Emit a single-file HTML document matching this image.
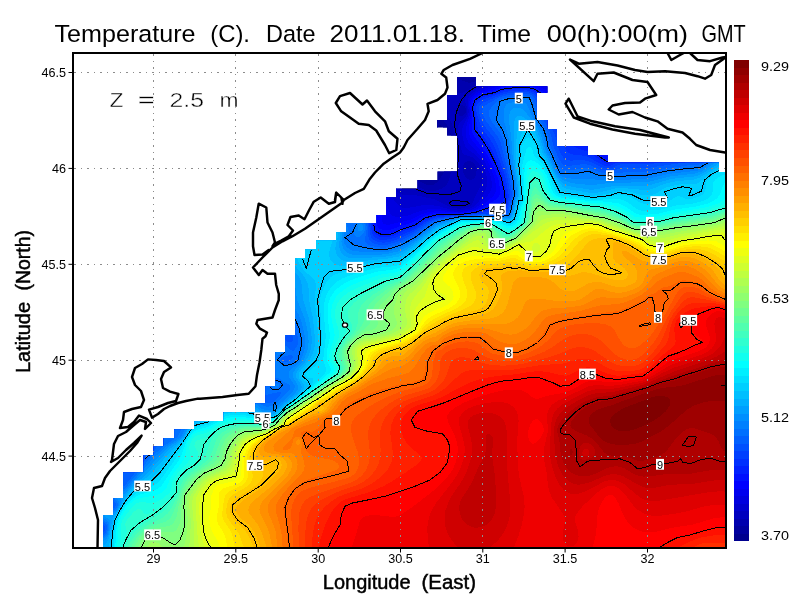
<!DOCTYPE html><html><head><meta charset="utf-8"><title>Temperature (C)</title>
<style>html,body{margin:0;padding:0;background:#fff}svg{display:block}text{font-family:"Liberation Sans",sans-serif;fill:#000}</style></head><body>
<svg width="800" height="600" viewBox="0 0 800 600">
<rect width="800" height="600" fill="#fff"/>
<defs><clipPath id="m"><path d="M103 549l0-34 10.2 0 0-17 10 0 0-25.5 20.5 0 .1-17.5 9.9 0 .1-8.8 9.9 .1 .1-8.3 10.7 0 0-8.5 19.8 0-.1-8.2 29.6-.1-.1-8.7 31.8 0 0-9 10 0 0-17.2 10-.1 0-34.2 9.5 0 0-17 10 0 0-77 10 0 0-8.5 11 0 0-9 20 0 0-8.5 10 0 0-9 30 0 0-8 10 0 0-17.5 10 0 0-8.8 21.5 .1 0-8.8 20 0 0-8.5 19.8 0 0-35.9-10.2 0 0-8.1-10 0 0-7.5 10 0 0-25 10 0 0-17.9 18.9 0 0 9.1 71.2 0 0 6.5-10.5 0 0 27.3 10.5 0 0 9 9.8 0 0 17.2 30.8 .1 0 8.9 20.2 .1 0 7.4 110.8 .1 0 9.2 8.2 0 0 377z"/></clipPath><clipPath id="f"><rect x="73" y="53" width="653" height="495"/></clipPath></defs>
<g clip-path="url(#m)" shape-rendering="crispEdges"><rect x="70" y="50" width="660" height="502" fill="#00008f"/>
<path fill="#00009f" d="M730 552.1l-660-.1 0-502 200.8 0 .3 4 1.8 3 15.4 17 31.7 40.6 2 .5 11-.1 10 .7 9 2 12.3 4.3 6.7 3.9 6 5 14 17.4 4.5-2.3 6.5-2.2 3-1.8 18.3-18 5-6 .5-2-6.3-8-1.8-4-.8-4 .3-4 1.2-4 2.2-4 2.4-3 4.5-4 4.9-3 5.6-2.4 6-1.6 6-.7 5 .1 15 3.2 3.4-.6 4.6-2 1-1.1 1-4.2 2-13.1 .1-5.6 244.9 0zM431.6 176l4.4-4.1 12-15.9 2-3.1 1.1-2.9-.9-6-4.2-12.1-2.9-4.9-3.1-2-1 .4-2 3.1-7.4 15.5-13.7 26 .1 1.9 1 .9 7 3.1 4 1z"/>
<path fill="#0000af" d="M730 552.1l-660-.1 0-502 198.7 0 .2 4 2.1 3.5 49 63.3 3 1.7 11 .6 10 1.8 8 2.5 7 3.3 6 3.9 6 5.2 6 6.6 8.5 10.6 1.5 .9 4-2.4 7.4-7.5 7.6-5.1 23-21.9 7.1-5 .6-1-.1-1-4.6-8-1.1-4-.2-3 .7-4 1.3-3 4.3-5.2 6-3.8 9-2.9 8-.5 8 3 2 .2 4-1 9-3.5 1.9-1.3 1.1-2.1 1-4.9 1.5-13 .2-7 241.3 0zM432.7 185l4.3-2.5 3.7-4.5 11.8-22 1.8-6-.3-4-1.6-7-4-12-4.3-6-3.1-3-2-1.1-1 .3-.4 .8-3.4 9-7.3 16-15.7 29-1.5 4 .1 1 1.1 1 7.1 2.6 8 3.8 3 .9z"/>
<path fill="#0000bf" d="M730 552.1l-660-.1 0-502 197.3 0 .3 4 2.4 4.2 48 62.8 5 5.8 4 2.6 10 1.7 8 2.4 11 5.4 6 4.3 5.4 4.8 14.6 16.2 2-.1 2-1.4 13-13 8-6.1 14-13 6-4.2 2-.8 .5 .4 .1 2-.8 3-5.8 13.6-7.2 14.4-10.7 19-1.8 5 .3 1 1.4 .8 10 1.1 11 4.3 5 .8 5-.4 5-1.6 3.3-2 2.7-3 2.2-5 2.7-10 4-11 1.3-6 0-4-1.4-9-3.8-15-1.8-4-5.8-7-2.9-5-1.2-5 .9-5 3.1-4 4.7-2.4 4-.3 7 2.2 2-.2 23.5-13.3 1.7-3 1.5-6 1.6-14 .2-7 239.5 0zM463 116l2.8-3 .5-3-1.3-3.3-1-1-2-.5-1.3 .8-1.4 2-1.1 5 .5 2 1 1 1.3 .4zM473.3 179l1.7-1.8 1.3-3.2 .3-4-.6-3-1.5-3-2.2-2-2.3-.9-3 .3-2.3 1.6-1.5 3-.3 3 .7 4 2.1 4 2.3 2.2 3 .7z"/>
<path fill="#0000cf" d="M730 552.1l-660-.1 0-502 196.3 0 .2 4 2.5 4.4 50 65.6 6 7.2 6 5.4 14 5 11 6.5 9.3 7.9 12.7 13.7 2-.2 3-2 18-17.7 17-13.7 2-1.3 2-.4 .4 1.6-.4 2-3.9 10-7.7 16-12.3 22-1.3 3 .2 2.4 3 2.3 4 1.4 12 .2 19 4.1 15 7.6 9 1.9 9-2.1 2-.8 2.2-2 3.3-8 5.2-10 1.1-4 .4-5-1.6-9-1.6-4-2-2.9-5-4-8-2.5-2-2.4-2-7.9-1.6-10.3-.3-8 1.5-3 5.4-5.1 2.1-3.9 .3-5-2.4-8 .2-2 1.5-3 2.3-2.8 2.8-2.2 7.2-4.8 7-3.2 1.5-2 2.9-11 1.4-13 .3-7 237.9 0z"/>
<path fill="#0000df" d="M730 552.1l-660-.1 0-502 195.4 0 .2 4 2.4 4.4 52 68.3 10 12.2 6 5.8 11 5.7 9 6.2 8 7.2 10 10.8 2 .3 3-2 24-22.7 9-6.3 2-.6 .9 .7-1.4 6-5.5 12.8-16.5 31.2-.3 2 .8 1.7 7 8.2 3 1.7 4 .7 16-3 11 0 6 .9 12 3.5 8 1.1 10-2 3-1 2.7-1.8 3.5-4 6-9 2.8-7 .3-4-.6-5-1.4-6-2.3-6-2.1-4-2.9-3.7-3-2.8-6.6-4.5-2.7-3-2.7-7-1.1-9 1.1-5 4-7.4 1.5-4.6 .1-4-1.1-8 1.4-5 2.4-3 4.7-3.5 5-2.9 7-2.7 1.5-1.9 2.7-15 1.4-18 236.4 0z"/>
<path fill="#0000ef" d="M730 552.1l-660-.1 0-502 194.5 0 .5 4.9 2.5 4.1 64.5 84.2 9 10.3 15.5 11.5 13.9 14 2.6 0 3-1.6 25-23 4-2.5 2.3 .1-.3 4-4 10.5-6 12.3-9 16.2-2 5 .2 2 3.8 12 2 2 5 1 11-1.4 13-5 8-1.4 9-.3 11.6 2.1 8.4 .9 4-.2 8.3-1.7 3.7-1.2 4.1-2.8 7.6-8 4-5 2-5 .1-5-1.1-6-2.7-8-3-6.7-3.3-5.3-13-14-2.5-6-.7-6 .6-4 3.4-11 .3-4-.6-10 1.8-4.9 3-3 6-3.9 12.5-4.2 3-2-.2-1-2.3-2-.4-2 2.9-20 .3-9 234.2 0z"/>
<path fill="#0000ff" d="M730 552.1l-660-.1 0-502 193.7 0 .5 5 2.4 4 78.4 103 3 3.3 11 9.6 8 8.4 2 .2 5-3 20-17.5 4-2.2 1.4 .2 .4 1-.4 3-3.3 9-5.2 11-8.2 15-1.8 5 1.2 17 1.9 2.2 4 .8 23-5.5 10-5.2 6-1.8 11-1.5 22 1.7 13-2.2 3.8-1.5 4.5-3 9.8-8 2.9-3 1.8-4 .2-6-1.2-6-3.2-9-3.6-8-4-6.9-12.8-16.1-1.4-3-1-4 0-4 2-11-.4-11 .6-5 1-2.3 2-2.4 7-4.6 25-7.5 18-1.2 7 .6 6 1.7 8 4.1 5 3.5 8 7.2 2 1.1 13 2.4 3-.5 7-2.8 3-.5 2 .3 2.5 1.9 .9 2 .5 5 2.1 2.3 24.6 9.7 3.4 .6 2-.8 2-2.3 15-24.5 5-9.2 3-7.8 3-10.6 1.8-11.4 .1-5 76.1 0z"/>
<path fill="#0010ff" d="M730 552.1l-660-.1 0-502 192.9 0 .5 5 3 5 67.8 89 16.8 24.8 12.4 13.2 1.6 1 2-.4 20-15.9 4-1.7 .9 1-.5 4-2.4 7-11 22-1.4 4 .9 18 1.2 2 1.3 1 5 1.3 6-.7 9-3.4 12-3.5 12-6.9 11-2.7 4-.4 21 .7 15-2.3 6.8-3.1 10.3-6 4.6-3 2-2 1.4-3 .1-4-1.5-9-2-6-4.6-11-5.1-9.6-13.1-18.4-2.1-5 .5-13-.8-11 .6-4 1-3 1.5-2 6.4-4.4 3-1.2 10-2.1 7-2.7 7-1.5 19-.7 6 1.2 4 1.5 8 4.6 4.8 4.3 16.2 22 12 13.3 5 4 12 7.7 9 8.9 3 1.7 2 .2 2.2-.8 2.5-2 .5-1-.6-2-3-4-20.2-22-2.9-4-1.1-3 13.6 3 20 6.5 3 .2 3-1.6 3-4.1 13-21.3 7-13.6 6-19.1 1.6-11 .2-5 73.2 0zM585 115.1l-4-2.2-2-2.9 .5-2 .8-1 1.7-1.2 2-.5 1.7 .7 .6 2-.4 7z"/>
<path fill="#0020ff" d="M730 552.1l-660-.1 0-502 192.1 0 .4 5 2.1 4 69.4 91.2 19 30.2 6.2 8.6 2.8 2.1 3-.1 3-1.8 6-5.1 5-3.2 4-1.8 1 .9-.1 3-1.8 6-8.3 18-.6 3 1 7 .3 9 1 4 2.5 2.3 4 1.7 2 .2 8-1.1 9-4 12.6-4.1 10.4-6.8 4-1.5 10-2.5 22-.1 15-2 23-7.6 3.1-1.5 1.9-2 1-3 0-4.4-2.7-13.6-1.3-4.4-5.3-12.6-6-12-7-11-5.7-7.3-1.5-3.7-1.6-23 2.2-6 6.9-4.8 12-2.9 8-3.1 7-1.4 18-.7 9 2.6 7 4.5 4.8 4.8 14.2 22.1 9 11.9 5 5.6 4.6 3.4 11.4 5.8 6.8 7.2 6.2 4.5 2 .9 2 0 10-5.2 10.8-3.2 1.1-1-.9-2-12.6-14-2.3-4 .9-1.1 8-.7 3-2 4.4-6.2 13.1-22 6.5-14.3 4.8-14.7 2.4-13 .4-7 71.4 0z"/>
<path fill="#0030ff" d="M730 552.1l-660-.1 0-502 191.1 0 .3 5 2.1 4 70.5 92.8 23.3 38.2 2.7 2.6 3 .8 3-.8 8-4.7 1-.1 1 1 0 3.2-.9 4-5.1 14 1.9 8 .9 11 1.2 3.7 2 2 4 2.1 4 .6 7-1 4-1.3 7-3.3 13-5 11-7.4 10-3.4 26-1.6 12.7-1.4 11.3-2.5 10-.5 7-1.6 2.7-2.4 1-3 .1-8-4.3-20-5.5-13.9-6-13.1-5.5-9-6.9-9-1.2-3-3.1-17-.1-3 2.7-6 5.1-3.6 12-3.2 8-3.2 6-1.3 18-1 4 .7 4.6 1.6 7 5 3.5 4 10.4 19 14.5 23.1 3 3.7 4 2.4 11 3.4 15 10.6 3 1.3 3 .1 3-1 7-3.9 5-1.6 6-.7 15-.2 4.8-1.2-.4-2-7.4-9-2.6-4-2.4-6.8-2.4-4.2-.2-2 9.6-19.5 10.3-27.5 4-13 1.8-12 .2-5 69.7 0z"/>
<path fill="#0040ff" d="M730 552.1l-660-.1 0-502 189.8 0 .3 5 2.6 5 69.3 91.1 5 7.6 18.9 32.3 4.1 3.7 6.8 1.3 1.1 1 .1 4-1.6 9 3.7 9 1.9 14.5 1.4 2.5 2.6 2.2 4 1.6 4 .4 10-2 17-7.3 6-3.1 9.6-6.8 9.4-3.7 38-3.5 10-1.5 11 .1 8-1.6 3-1.9 2.1-4.9 .6-9-3.8-20-10.3-28-4.6-8-9-12-4.6-15-.4-4 1-3 2-2.8 3.1-2.2 19.9-7.2 6-1.4 18-1 4 .6 4 1.6 5.4 4.4 3.7 5 6.3 14 11.8 21 3.6 11 2.2 3.6 2 1.6 3 1.2 10 1 5 1.1 17 9.1 4 .6 3-.5 9-4.4 5-1.2 24 .2 14-1.5 5.6-1.8 .4-1-1.5-3-2.7-3-3.7-3-14-9-1.5-2-.7-3 5.5-35 2.5-9 7.3-21 2-12 .2-6 67.6 0z"/>
<path fill="#0050ff" d="M730 552.1l-660-.1 0-502 187.4 0 .2 5 3 6 69.4 91.3 5 7.6 18.5 32.1 6.2 7 .7 2 .3 8 5.3 6 2.4 5 .9 4 .7 9.8 1.6 4.2 2 2 2.4 1.3 7 1.5 7-1.1 9-3 14-6.5 15.1-10.2 7.9-3.4 14-2 32-3.1 13 .3 9-1.5 3-2 2.1-5.3 1.2-11-2.2-14-2.1-8.6-9-28-3.7-6.4-7.4-9-2.6-4-3.3-8-1.5-6 1-4 3.5-3.4 20-8.3 7-1.4 17-.9 5 1.4 3.6 2.6 2.5 3 2.4 4 4.8 13 8 15 2.8 7 2.4 10 2.4 6 2.7 4 3.4 2.1 4 .5 10-.5 5 .5 5 1.6 11 5.2 6 1.1 5-.8 6-3 4-1.1 21 .6 8-.4 22.1-2.8 20-4 .9-1 .2-2-1.2-10-14.9-87-.4-7 51.3 0zM676 146l-2 .1-3-.9-17-8.2-3.2-2-1.2-2-.2-3 5.6-36.7 2-6.5 2-3.3 1-.6 1 .7 1 2.4 11.9 45 3.4 11 0 3zM247.2 325l2.6-2 1.2-2.6-.2-2.4-1.8-1.9-5-1.4-6-.6-3 .4-2 1.5 .1 2 1.3 2 5.6 4.5 4 1.3z"/>
<path fill="#0060ff" d="M730 552.1l-660-.1 0-10.9 4.9-.1 5.7-1 15.5-4 6.5-3 2.3-3 0-3-1.4-2-13.1-10-3.9-4-1.2-2-.7-3 .2-2 .9-2 2.3-1.4 2-.3 15 2.5 2 0 1.3-.8-1.3-2.6-4.6-5.4-3.4-5.1-2-1.8-21.5-11.1-2.5-.7-3 0 0-425.3 164 0 .2 4 1.8 4.1 30 52 19 27.6 34 47 3 3.2 9 4.1 7 4.6 15.8 14.4 7.2 3.4 3 2.2 2 2.4 1.6 4 .5 4 0 9 1.2 4 1.7 2 2 1.2 7 1.8 7-.1 12.5-3.9 13.5-6.5 16.4-11.5 3.6-2 4-1.4 24-3.7 22-1.5 12 .5 10-1.3 2.7-1.6 2.3-6.3 1.7-9.7 .1-3-2.3-15-7.6-31-1.5-5-2.5-5-12-16-2.7-6-.9-4 .6-3 2.9-3 12.2-7 5-1.9 7-1.3 17-1.2 4 1.1 2.9 2.3 4 7 4 13 7.3 13 2.4 7 1.8 9 4.6 11.1 4 6.4 2 1.5 2 .6 4 .1 11-1.3 5-.1 5 1.2 10 4.3 4 .8 5 .2 5-.8 8-2.6 25 .5 40-5.9 10-.6 4-1.3 5-3.1 11.8-9 5.2-6 3-1.2 3 0zM221.2 359l2.8-2.4 19.2-25.6 6.8-5.7 2-2.3 3.3-8 3.7-6 0-2.4-2-1.3-6.6-1.3-83.4-13.4-4-.1-.6 .5 .1 1 1.5 2.8 10 12.6 37.2 41.6 6.8 8.5 2 1.5zM291.9 342l1.3-2 0-3-2.2-4.6-2-1.3-1 .7-2 3.2-1.1 4 1.1 1.6 2 1.3 2 .5z"/>
<path fill="#0070ff" d="M730 552.1l-660-.1 0-8.7 6.5-.3 13.8-3 9.5-3 5.2-3.1 1.9-4.9-.4-4-3-3-11.5-9-2.1-3 .1-2.5 1-.8 3-.5 18 2.1 2-.3 1-.7 1-2.3-.6-2-8.2-12-.5-3 .9-2 1.4-1 2-.4 11 1.6 2-.1 1-.7 19.5-24.4 10.4-11 2.5-4-.7-2-76.7-90-4-3.5-3-.9-3 0 0-299.6 161.6 0 .2 4 1.2 3.2 31 53.9 19 28.5 34.9 48.4 5.1 5.5 9 4.7 7 5.5 5 5.3 8 10.5 1 .2 3.7-1.7 2.3-.4 3 .7 2 1.5 2 3.2 .6 3-.1 4-1.6 9 .6 3 1.8 2 2.7 1.5 7 1.6 6 .7 3-.3 14-4.3 14-7.1 17-12.4 6-2.8 22-4.3 24-1.4 12 .6 11-1 2-.8 .8-1 1.9-6 2.5-13-2-16-7.9-38-4.3-8.8-7.7-10.2-1.7-4-.8-4 .3-2 1-2 6.1-7 2.8-2.2 4-1.6 6-1.3 10-.3 8-1.1 3 .8 1.9 1.7 3.2 7 3.3 12 7.8 13 2.3 7 2.4 11 7.1 15.6 3 5 2 1.4 10-.2 14-1.8 4 .8 9 3.6 7 .8 9 .3 11-1.5 21-.3 41-6.5 9-.2 4-1.5 6-3.7 11-8.4 6-6.9 2-.8 3 0zM222.6 362l3-3 19.8-27 7.6-8 9.5-16 .5-3-1-2-2-1.1-6-1.3-79-12.6-15-3.2-3 .3-.5 .9 .3 2 2.2 4 14 17.7 37 41.3 7 9 3 2.3zM294.2 350l1.8-2.2 1.8-3.8 .2-6-3-9.5-3-5.5-2-1.8-1 .3-2 2.6-8 13.9-.8 3 .7 1 8.5 5 4.6 3.8 1 .1zM287 362l5-3 .9-2-.9-2.4-9 2.2-2 1.2-.3 2 1.3 1.4 2 .9zM271.1 403l2.9-1.5 2.8-2.5 4.1-5 .4-1-.3-.6-4 .1-6 1.1-5 1.4-2.7 2-.5 1 0 2 1.6 2 3.6 1.3z"/>
<path fill="#0080ff" d="M730 552.1l-660-.1 0-7 7-.5 14-3.1 10-3.2 3-1.5 2-1.7 2.1-6 .2-3-.4-2-1.8-2-10-8-1.8-2-.4-2 1.1-.8 2-.2 16 1.4 3-1.6 1.6-2.8 .1-3-7.1-11-.4-2 .4-1 1.4-.9 2-.2 9 1.3 2-.6 21.9-26.6 4.7-5 12.4-11.3 10.9-6.7 2.4-2 1.9-3 4.3-10-.5-1.1-5 1.4-3-.2-3-1.4-3-2.8-20.9-22.9-71.1-88.6-3-2.8-4-.4 0-255.2 160 0 .4 5 2.6 5.4 28.4 49.6 21.2 33 38.4 53.5 3 2.9 6 3.1 5 3.7 4 3.9 3.6 4.9 3 6 3.1 10-.1 2-2.6 4-.1 2 .6 1 6.3 5 2.2 1 14.8 3 15.2 1.1 14-4 16-8.5 19-14.2 3-1.2 11-2.8 13-2.5 22-1 12 .6 11.2-.5 2.8-1 1.8-4 3.6-16-1.2-14-3.4-18-3.6-24-3.2-8.7-4.8-8.3-.9-3 2.7-16 2-1.6 3.9-1.4 7.1-1.1 7 .3 6-1.2 2 .3 1.1 .7 2.9 6.8 3.7 12.2 6.8 10 1.5 3 2.3 7 1.4 8 1.1 3 10.2 22.3 1 1.4 2 1.1 13 .4 13-2 10 3.3 21 1.6 16-1.7 12-.1 20-4 31-3.3 3-.9 5.2-3.1 11.8-8.6 8-9.2 4-.3zM358 237l-2-.5-1.7-1.5-.8-2 .2-2 1.6-5 1.7-3.2 2-1.8 2-.2 2 .9 1.6 2.3 .5 2-.1 3-1 3.2-2 2.9-2 1.5zM222.4 365l1.6-.8 2-2.1 21-29.1 7.6-9 10.1-16 2.7-9 5.1-8 .5-2-.7-1-2.3-.8-6-.8-108-8.8-3.3 .4-.8 1 0 2 2.3 7 12.8 16.8 11 13.1 31 34.3 8 10.3 3 2.3zM287.2 366l6.8-2.4 2.4-1.6 1.6-1.8 4.1-17.2-.8-7-3.1-11-5.2-10.7-2-2.8-2-1-2 2.1-18.4 30.4-2.7 5-1 3 1.1 .1 5-2.4 4-.9 4 .4 3 1.3 1.3 1.5-.1 1-5.4 4-1 2 .2 2 1.4 2 4.6 3.5 2 .8zM272.6 406l4.4-3 10.9-11 2.3-3 .3-3-1.5-1.6-5.3-2.4-3.5-3-2.2-.9-3 0-7 2.3-3-.4-2-1.1-2-2.6-1.1-3.3-.5-5 .6-7-1-.9-5 6.5-7.1 11.4-2.9 6-.5 3 .4 1 1.1 .5 6 .6 3 1.6 1.4 2.3 2.8 8 3.3 4 2.5 1.2 3 .6zM277 388.3l-2 .1-2-.7-1-1.7 .7-2 3.3-.6 3 .9 .5 .7-.4 2z"/>
<path fill="#008fff" d="M730 552.1l-660-.1 0-5.4 6-.3 13-2.8 11-3.3 6.2-3.2 1.2-2 1.4-5 .6-4-.3-3-1.1-1.5-7.8-6.5-1.4-2 .3-1 5.9-.6 8 .9 3-1.9 2.8-4.4 .5-4-5.1-8-.5-2 .4-1 2.9-.6 6 1 2-.4 25-29 5.9-6 11-10 10.1-6.1 4.7-3.9 6.3-13 5.8-7 3.3-5 10.9-18 3.1-7-1.1 0-1 .8-5 5-23 27.3-3 1.7-2 .1-2-.8-5-4.4-18.7-19.7-73.1-91-3.2-2.5-4-.3 0-252.2 158.4 0 .1 4 2 5 29.2 51 13.6 22 16.2 28 20.5 40.1 2 1.5 8 1.7 7 2.9 5 3.2 4.8 4.6 4.2 6 2.9 7 .6 5-1.2 7 1.3 5 2.2 3 2.3 2 2.9 1.4 4 1 28 1 4-.6 10-2.9 5-2.2 12-7 20-15.2 3.7-1.5 18.4-5 4.9-.7 20-.7 12 .6 7-.5 6 .4 3-1.4 1.7-3.7 4.1-19-1.3-13-2.9-16-2.7-25-5.4-20 .1-5 1.1-7 1.3-2.3 3-1.7 5-.8 10 .5 2 .9 1 1.2 6.4 14.2 8.2 12 2.5 7 2.6 11 11 24 3.3 3.3 5 1.5 9 1.3 13-.5 8 1.1 12-.3 10 .8 27-1.4 5-.6 18-4.2 29-3.3 6-2.2 16-10.9 7-9 4-.5zM361 231.2l-2.2-.2-.9-1-.4-2 .8-3 .9-1 1.8-.6 1.9 1.6 .5 2-.4 2zM222.4 369l1.6-.8 3-3.2 21-30.1 7.8-9.9 10-15 4.6-9 7.5-11 4.7-13-.6-2-4-6.2-2-1.1-3.7-.7-156-24-9.3-1.3-4 .3 .2 1 2.1 2 30.7 21.7 4.9 4.3 7.9 11 5.4 9 15.1 19 38.7 43.4 9 11.5 4 4zM270.1 410l3.9-1.3 3-2 13.6-12.7 3.3-4 .9-3-.3-2-5-7-1-3 .1-2 1.7-3 7.7-6 2.5-3 2.4-6 2.3-9 0-8-3.2-14.6-3.2-8.4-5.8-11-3-7.7-1-.7-2 1.7-3 4.9-27.1 46.8-23.7 39-3.3 7 .2 1 .9 .4 10-.6 6 1.1 5 3 7 6.9 3 2.1 4 1.2z"/>
<path fill="#009fff" d="M730 552.1l-654.1-.1 0-3 23.1-6.5 6-2.5 2-1.5 1.2-2.5 1.5-6 .8-8-.8-2-4-3-1.4-2 .6-1 1.1-.2 7 .7 2-1.5 3-3.9 2.1-4.1 1-5-.6-2-2.5-3 .1-1 1.9-.4 3 1 2-1 7-8.6 32.4-34 4.6-4.2 9-5.9 5.6-4.9 6.2-13 2.2-2.4 5.9-4.6 1.6-2 42.5-64.8 9-13.2 17.7-24 4.3-7.8 5-6.3 .5 .1-.2 1-2.3 4.4-55.6 92.6-3.4 6-.9 3 .9 .5 2-.4 8-2.9 6-1.5 8-.3 4 .7 4 1.6 12 8.1 3 1.5 3 .6 3 0 5-1.9 9-8.2 9.5-7.8 4.2-5 .7-2 0-2-4.8-8-.7-3 .3-2 1.7-3 6.8-7 2.5-4 3.7-10 .8-8-1.2-10-2.4-11-8.2-21-2.1-16-.9-2-2.7-3-1.4-3-7.3-10-1.5-1.1-5-1.2-170-26.1-12-1.6-3 0-2 .8-.5 1.2 .3 1 4 4 42.2 30 10 9.4 7.6 10.6 15.2 19 39.2 44 8.8 12 .5 3-3.1 5-32.2 40.3-3 2.5-2 .1-4.2-2.9-19.8-20.4-73.6-91.6-3.4-2.9-2-.6-3 0 0-249.5 156.5 0 .1 4 1.8 5 43.6 75.4 35 70.4 1 1.5 2 1.2 8 .7 7 2.2 5 2.9 5 4.4 4 5.4 2.6 5.9 .6 4-.8 9 1.5 6 2.1 2.9 2 1.6 3 1.5 4 .9 7 .3 24-.8 13-3 6-2.7 10-6.2 22-16.9 22-7.2 4-.6 21-.5 12 .6 6-.4 6 .7 2-.3 1.4-.9 2-4 2.4-12 2.3-8-1.3-13-2.5-15-2.1-28-2.4-17 .2-4 1-4.2 1.9-2.8 2.1-1.1 3-.4 3 .3 4 2.2 14.1 19 3.9 8.9 3.7 13.1 4.1 8 6.1 14 2 3 2.1 2.1 4 2.4 8 2.7 20 2 17-2.2 36-.8 6-.9 18-4.7 26-3 7-2.2 7.1-4.4 10.9-7.2 6-8.3 1-.6 3 0z"/>
<path fill="#00afff" d="M730 552.1l-636.2-.1 0-3 10.2-3.7 3-2.6 2.1-5.7 3.6-19 6.8-10 5-11 5.1-7 3.4-3.7 13.5-12.3 22.1-24 10.4-8.2 5-4.7 6-11.9 3-3.4 4-2.3 11-4.5 14-7.7 6-2.2 6-1.1 6-.1 5 .9 7 2.8 12 6.4 5 .8 3-.3 5-3 8-7.6 12.2-9.9 3.4-4 1.2-3-.6-2-4.7-7-.5-3 .3-2 1.8-3 6.9-8 4-7 2.3-7 .5-9-.9-9-2.1-12-5.9-19-1-13-1.3-6-2.1-4-7.5-7.6-5-7.8-2-2-5-1.2-183-28.2-10-1-5 1.1-2 1.7-1.1 3 .6 3 2.1 3 8.4 6.5 41.9 29.5 11.1 9.4 23.5 29.6 38.5 43 6 8.5 .4 1.5-.4 1.7-3 4.3-28 35.9-1.1 1.1-1.9 .5-3-2.3-17-17.2-74.7-93-2.3-2.3-3-1.8-2-.7-4-.1 0-244.1 152 0 .4 6 2.2 5 39.4 69 40.2 82 .8 1 2 .7 8-.5 7 1.2 6 2.8 5 3.8 4.2 5 2.8 6 .2 4-1.3 9 1.3 6 1.8 2.8 2 1.8 3 1.6 4 .9 9 .3 25-1.8 8-1.3 6-1.6 6-3.1 8-5.2 24-18.6 21-7.8 4-.6 22-.5 17 .4 7 1 3-1.2 2.2-4.1 2.6-13 2-5 .5-3-1.2-13-2.3-15-1.2-20 .2-22 1.2-4.1 1.4-1.9 1.6-1.1 3 0 3 1.4 5 4.1 5.2 5.6 2.8 4.2 2.6 5.8 4.6 15 3.8 7 8 17 3 3.8 5 4.2 3 1.5 5 1.4 20 3 24-4.3 27 .3 6-.5 20-5.9 10-1.6 13-1 5-1.1 7-3.3 18-10.9 5-3.6 3 0z"/>
<path fill="#00bfff" d="M730 552.1l-621.5-.1 0-3 4.9-29 12.1-22 6.5-8.5 17.7-14.5 21.3-24 14-13.8 5.4-10.2 2.6-3.3 3-1.7 12-4 9-5.4 6-2.9 10-2.6 6-.1 6 .9 8 2.6 10 4.6 6 1 3-.2 4-2.1 10-9.5 9.7-7.3 5.3-5 3.1-4 .4-3-4.9-6-.9-2 0-3 1.4-3 9.2-11 3.4-6 1.9-7 .4-9-2.3-21-3.7-17-.5-12-.7-4-1.6-4-2.4-4-10.2-12-2.4-5-1.2-5-.1-7 1.7-8 3.2-7 4.2-5.4 6-4.6 4-1.8 4-.9 4-.2 4 .6 4 1.2 4 2.1 6 5.4 2 3.1 .9 2.5-.1 3-1.9 7-.5 4 .3 4 1.6 4 2.8 3 3.9 2 4 .8 6 .1 33-3.3 12-2.1 5-2.7 9-6 13-10.9 11.9-8.9 21.1-8.6 25-.9 16 .5 7 1.5 3-.2 2-1.4 1.6-2.9 3.3-15 2.6-6-.9-13-2.3-17 .2-9-.8-11 2.3-18 2-3.4 3-1.1 3 .7 3 1.7 3 2.8 2.4 3.3 5.4 12 2.7 10 4.3 7 6.5 14 3.7 6.2 6 6.9 3 1.6 4 .9 23 3.7 8-1.3 14-3.5 4-.5 13 .7 11 1.3 6-.3 4-1.1 10-4.2 6-1.8 10-1.7 13-1 4-.8 4-1.7 20-11.9 6-2.5 4-.2z"/>
<path fill="#00cfff" d="M730 552l-619.7 0 0-3 1.7-16 2.6-13 11.4-20.6 7.9-9.4 16.2-11 7.9-7.7 28-34.1 4-7.1 3.9-5.1 2.1-1.1 12-3.4 10-5.9 5-2.3 5-1.6 5-.9 6 0 7 1 9 2.5 9 3.4 6 .5 3-.5 3-1.7 10-9.7 11.1-8.3 7.5-7 3.4-4 .4-2-5.8-5-1.2-2-.2-2 1.8-3.7 10.1-11.3 3.4-6 1.4-7 .4-11-1.9-22-1.9-13 1.3-13-.3-5-1.2-3-1.5-2-7.8-6.6-2.9-3.4-3.7-6-1.5-5 .1-6.4 2-7.6 3-6.5 4-5.2 6-4 6-1.4 7 1 6 3.5 2.2 2.6 .9 3-4.7 15-.3 4 .9 4 2 3.1 4 2.7 5 1.3 5 .3 17-1.9 12-2.3 22-2.3 3-.8 14-9.8 13-11.3 11-8.2 21-9.7 3-.4 23-.5 16 .7 7 2 3-.5 2-1.7 1.5-2.7 3.5-15.2 2.9-5.8-.3-7-2.7-23 .8-10-.6-10 4.4-16 1.5-1.9 2-.6 3 1.1 3 3.5 6.1 11.9 2.8 11 4.1 5.3 8.2 16.7 6.8 11.6 2 2.1 2 .6 28 4.6 16-2.1 11-3 13 1.5 12 3.2 7-.1 5-1.8 8-5.4 7-2.1 11-2.1 12-.1 3-.4 2-1.1 10.6-8.4 7.4-4.2 8-3.4 5-.4z"/>
<path fill="#00dfff" d="M730 552l-618.1 0 0-3 1.2-16 2.2-12 4.2-9 6.5-10.6 8.4-9.4 17.7-10 7.9-7.4 14-18.9 13-18.6 3-5.1 4-4.9 3-1.6 12-3.1 9-5.4 5-2.3 9-2.2 6-.2 8 .9 9 1.9 8 2.7 7 .3 3-.5 4-2.5 9-8.9 8.7-6.2 16.1-14 2.2-4 .4-2-.3-2-1.1-.4-4 .3-2-1.2-.5-1.7 1.5-2.3 9-7.4 2-3.8 2.3-7.5 1.6-18-2.2-36 1.9-7 2.8-7 2.8-5 3.8-4 2.9-2 3.1-1.3 18-4.5 10-1.6 11-2.7 24-2.8 14-10.5 14-12.5 10.9-8.1 20.1-10 3-.6 22-.6 16 .9 9 2.7 2-.4 2-1.1 2.6-3.9 3.4-13.6 1-2.2 2-2.4 .4-1.8-2.6-32 1.5-10 0-10 1.4-3 3.3-4.3 2-1.3 1 0 3 2.4 3.7 5.2 2.6 11 5.7 6.4 13.9 28.6 2 2 2.1 .7 31 4.3 16-1.3 11-2.3 11 2.6 9 5.5 3 1.2 11 1.2 5-.1 9.1-2.8 8.9-5.8 2-.2 6 2.5 4 .7 5-.8 6.6-2.4 2.4-1.7 1.7-2.3 .8-3 .6-7 3.3-4 3.9-3 7.7-3.9 5-1.5 4-.1z"/>
<path fill="#00efff" d="M730 552l-616.5 0 0-3 .9-16 2.1-12 3.5-8 5-8.2 4-5 6.3-5.8 17.8-8 3.2-2 3.3-3 15.9-22 9.8-18 4.7-7.2 4-4.3 3-1.9 12-3.1 13-7.1 9-2.4 6-.4 8 .7 9 1.4 9 2.4 7 0 3-.7 4-2.6 9-8.9 8.4-5.9 17.3-14 13.3-14 1.1-2 .2-2-2.6-7-.4-3 2.5-23-1.8-19 .2-14 1.1-5 2.7-6.1 4-5.8 4-3.9 7.2-4.2 13.8-5 20-5 19-2.1 5-1.6 14-11.2 13.1-12.1 6.9-5.4 7-4.8 17-8.8 4-.8 25-.6 12 1.2 9 3.1 3-.6 3-2.2 1.9-3.1 3.4-13 3.2-6-1.5-34.1 4.5-16.9 1.5-1.9 1-.3 2 .7 1 1.3 1.6 5.2 1.5 3 5.9 5.3 2 2.6 6 11.1 6 15 1.3 2 2.6 2 3.1 .9 11 1 19 2.8 28-.5 6 2 10.9 7.8 5.1 1.7 17-.7 17-4.5 17-1.9 11-2.9 4.7-2.7 2.7-3 1.3-4 .5-8 1.8-3.2 3.7-2.8 4.2-2 3.1-.9 4-.1z"/>
<path fill="#00ffff" d="M730 552l-614.7 0 0-3 .6-16 1.7-11 3.4-8.4 4-6.5 4-5.1 7-5.6 4-1.8 15-4.5 3.9-2.1 2.4-2 17.6-26 2.5-5 5.3-14 4-6 3.3-3.3 4-2.1 11-2.9 13-7.1 9-2.4 6-.4 8 .6 8 .9 11 2.1 6-.4 3-.8 4.6-3.2 7.4-7.7 9-6.3 18.2-14 17-15 1.3-2 .3-2-3.6-8-.7-4 .5-6 3.1-15-2.3-17-.1-11 .8-5 1.7-5 3-5 3.8-4.4 8-5.7 12-5.2 20-6.1 18-2.3 6-2.3 5-3.6 29-26.1 7.9-5.3 17.1-9.3 3-.5 23-1.1 14 1.9 8 3.5 3-.1 3-1.4 2.4-2 2.1-3 2.8-12 3.3-8-.5-23 .9-11 1-2.4 2-2.5 3-.9 3 1 4 2.4 4 4.1 5 8.6 5.7 15.7 1.4 2 2.9 2.2 5 1.5 28 3.4 13 .4 15 1.6 7 3.1 10 7 5 1.5 5 .1 14-1.3 16-4 21-3 12-3 5.5-2.5 4-3 2.7-4 2.2-7 1.6-3.2 2-1.8 4-.4z"/>
<path fill="#10ffef" d="M730 552l-612.8 0 0-3 .8-17 1-9 2-5.7 3-5.3 5.8-8 5.2-4 6-2.2 15-2.4 5-2.2 4-3.2 1.9-3 2.7-7 2.4-4.6 11.4-15.4 1.6-4 2.6-13 3.4-5.9 2-2.3 4-2.4 12-3.4 12-6.8 9-2.6 10-.6 12 .9 12 1.7 8-1.1 5.1-3.5 8.9-8.9 26.3-19.1 21.1-17 .8-2-.2-2-3.8-7-1-5 .8-5.4 4-11.6 .6-4-.4-4-2.6-11-.4-9 .7-5 1.8-5 2.3-4 4-4.4 8-5.7 12-5.4 20-6.8 15-2.2 4-1.5 8.2-6 27.8-26 8-5.3 17-9.7 10-1.3 16-.8 6 .5 6.4 1.6 9.6 4.3 3-.2 4-2 3.7-3.1 1.5-2 2.5-12 2.7-8 .4-21 1.4-9 2.2-4 1.6-.9 2-.3 2 .5 3 1.6 4 4.2 3.3 5.9 4.3 13 2.4 4 3 2.2 7 2.1 28 3.3 12 .7 13 2.3 7 2.9 6 3.5 6 4.5 3 .9 7 .3 15-1.4 15-3.7 32-5.2 12-4 4.1-2.4 4.9-4.4 3 0z"/>
<path fill="#20ffdf" d="M730 552l-610.7 0 0-3 1.4-10 .4-15 .9-2.9 2-3.4 8-10.6 4-3.8 4-1.2 10 .7 6-1 7-3.4 6.4-5.4 1.6-2.7 1.4-8.3 2.4-5 3.7-5 8.8-9 2.2-3 .8-4-1-8 .3-3 2.4-5.1 3-3.6 3-1.4 9-2.1 13-8 10-3 9-.9 12 .5 13 1.4 8-1.5 6-4.5 8-8.2 8.5-5.6 40.8-30 1.3-2 .2-3-4.4-8-.6-5 1.9-7 5.1-11 .7-4-4.1-14-.2-8 .7-4 1.7-4 2.4-3.5 3-3.1 5-3.7 7-3.9 23-9.5 6-2 12-2.1 3.2-1.2 10.8-8.9 26-25.1 24-14.5 10-1.8 16-1.1 8.4 1.4 13.6 6.4 3-.6 4-2.1 6-4.7 1.2-2 4.3-21 1.5-21.2 1-3.3 1.5-2.5 1.5-1.4 2-.5 4 1.4 3.4 3.5 2 4 1.7 7 1.3 3 3.7 6 2.9 2.3 8 2.4 39 4.1 13 2.9 5 1.7 8 4.2 7 5.3 2 .7 9 .3 16-1.4 13-3.3 36-5.7 11.2-3.5 6.8-3.1 3 0z"/>
<path fill="#30ffcf" d="M730 552l-608.3 0 0-3 4.8-16 .1-3-1.6-6 1.9-4 7.1-8.3 4-3.1 2.3 .4 4.7 5.2 3-.2 3-1.3 11-7.2 6-5.3 5-5.4 2-3.6 .4-8.2 2.6-5.3 7-7.8 9-6.5 4-5.4 .3-5-.8-2-2.7-4-.4-2 .6-2.4 2-2.4 9-2.4 14-10.6 9-3 9-1.4 13 .2 13 .9 8-1.8 6-4.7 8-8.2 8-5.2 43.5-31 1.2-2 .4-3-1-3-3.2-5-.7-3 0-2 2.2-7 9-15 .5-2-2.8-5-3.1-7-.4-3 .4-5 1.4-5 5.7-6 3.9-2.9 8-4.7 23-11 18-5.1 12-10.5 25-24.6 23-14.1 10-2.4 16-1.3 5 .6 3 1 13 7.5 3-.4 5-2.8 6.9-5.3 1.9-3 3.5-20 2.3-19 1.2-3 1.2-1.6 3-1.2 3 1 1.8 1.8 1.2 2.4 2.6 8.6 5.4 7.8 3 2.1 9 2.2 42 5.1 14 4.2 9 4.5 6 4.7 2 .8 10 .4 16-1.3 13-3.3 36-5.3 17-5.3 4-.2z"/>
<path fill="#40ffbf" d="M730 552l-605.6 0 0-3 .9-3 3.6-7 6.1-8 8-6.6 18-11.3 4-3.6 4-4.8 7.7-10.7 .9-3 .7-7 2.5-5 6.2-6.7 9.2-6.3 6.5-6 3.5-6 3.3-10 1.9-4 3.5-5 3.9-4 5.2-2.9 12-3.2 13-.5 15 .6 8-2.1 3-2.1 11-11 52.4-35.8 2-3 .7-4-3.9-8-.5-2 .3-3 1.4-5 3.4-6 3.2-4.5 5.6-5.5 1.7-3 0-4-4-8-.8-4 1.4-5 4.9-6 9.3-7 20.9-12 17.1-6 12.4-11 24.5-24.3 23-14.4 10-2.7 15-1.4 4 .5 3 1 13 8.7 3 0 5-2.8 8.5-6.6 2.3-3 6.4-37 1.8-3.5 2-.9 2 .5 1 .9 3.5 9 6.1 8 2.5 2 9.9 2.3 42 5.5 14 4.2 9 4.3 6 4.5 3 1.1 11 .5 15-1.2 14-3.2 35-5 17-5 4-.2z"/>
<path fill="#50ffaf" d="M730 552l-602.5 0 0-3 1.5-4 3.6-6 3.4-4.4 3.6-3.6 7.4-5.4 15.3-7.6 5.7-4.9 3-4.5 7-13 2.9-10.6 2-4 6.3-7 15-11 4.1-4 3-5 4.9-14 2.4-4 2.8-3 5.3-3 10.3-3.3 10-.8 17 .1 9-2.9 13-12.7 53.9-36.4 2.6-4 .5-3-3.7-10 0-3 .9-4 4.6-8 7.8-8 2.9-4 2-6 .5-10 .9-4 2.8-5 4.7-5 6.3-5 13.3-8.7 14-5.8 3-1.7 12.2-10.8 23.8-23.6 22.1-14.4 9.9-3.3 9-1.3 6-.3 4 .6 3 1.2 9 7.4 3 1.7 4-.1 4-2 10.9-8.9 2.2-3 1-4 2.9-19.6 3-8.7 2-3.3 1 .3 3.2 5.3 7.1 8 3.7 2.7 9 1.8 43 6.2 13 3.8 9.8 4.5 6.2 4.2 4 1.2 11 .5 14-1.1 15-3.2 35-4.8 15-4.7 5-.4z"/>
<path fill="#60ff9f" d="M730 552l-599.3 0 0-3 1.5-4 3.7-6 3.2-4 3.9-3.6 8-4.8 14-4.8 3-1.7 2.3-2.1 2.9-5 9.2-25 2.6-5.2 2.8-3.8 4-4 17-12 3.3-3 3.1-5 4.9-14 1.9-3.1 2.6-2.9 6.5-4 7.9-2.8 7-.9 18-.4 9-3 2-1.4 11-11.5 8-4.9 31-21.2 13-8.1 3.4-2.8 2.8-4 .7-3-.5-3-2.8-8 .1-4 1.3-4 4-6 9.1-9 5.4-7 2.5-5 1.8-9 1.4-4 3.2-5 5-5 13.2-10 13.4-6.6 3.6-2.4 11.3-10 23.7-23 17.4-12.2 6-3.4 6-2.3 5.3-1.1 6.7-1 5 .1 3 .6 2.7 1.3 7.3 7.4 3 1.8 5 .3 5.6-2.5 10.6-9 3.1-4 1-3 3.3-20 2.4-4.1 2-.8 3 1.4 8 7.4 3 1.5 25 3.5 30 5.3 11 3.5 8 3.5 7 4.3 5 1.2 11 .7 13-1 15-3 35-4.8 15-4.7 5-.4z"/>
<path fill="#70ff8f" d="M730 552l-596.1 0 0-3 2.1-5 3.7-6 3.3-3.4 4-3 7-3.1 14-2.3 3-1.2 2.4-2 1.6-2.3 1.5-3.7 2.1-11 3.4-12 4-8.2 5-6.8 4-3.8 7-5.2 10.3-6 3.4-3 2.5-4 2.9-9 2.2-5 2.5-4 2.9-3 5.7-4 6.6-2.5 5-.8 18-.8 9-3.3 2.3-1.6 11.7-12 7-4.2 31-21 14-8.6 3.8-3.2 2.6-3 1.3-3-.1-3-3-11 .5-4 1.3-3 2.9-4 4.7-4.6 15.9-13.4 1.8-4 1.4-10 2.2-5 3.9-5 11.1-10 5.4-4 8.3-4.3 5.5-3.7 33.4-31 17.1-12.8 9-5.1 11-2.8 8-.2 3 .6 2.1 1.3 5.9 7.6 3 2 3 .6 3-.1 7-2.9 11-9.7 3.6-4.5 1-3 1.3-9 2.1-8.5 2-2.8 2-.5 3 1.1 6 4.9 3.4 1.8 23.6 3 31 5.6 16 5.3 12 6.2 12 1.6 5 .1 11-.8 16-3 34-4.5 5-1.2 10-3.8 5-.3z"/>
<path fill="#80ff80" d="M730 552l-592.7 0 0-3 1.4-4 3.5-6 2.8-2.8 5-3.4 3-1.1 3-.3 16 1.1 3-1.3 2-1.9 2-3.7 1.5-5.6 .7-14 1.9-10 1.9-4.5 7.4-10.5 3.6-4 7-5.3 11.2-5.7 4.8-3.7 2.6-4.3 2.2-8 2.9-6 3.4-5 4.2-4 3.7-2.5 5-1.9 21-1.8 10-4 13-13 23.1-14.8 14.9-10.3 15-9.1 5.5-4.6 2.4-3 .7-3-3-14 .4-3 1.4-3 2.2-3 5.1-5 7.3-5.6 4-1.8 7-1.8 3.9-2.8 .8-3-.6-10 1.6-6 3.3-4.8 6-5.8 6.5-7.4 16.5-10.4 28-26.2 20-16.1 10.2-6.3 10.8-2.9 9 .5 3.3 2.4 2.7 5.6 1.9 2.4 3.1 1.6 7-.2 8-3.4 10.8-10 3.6-4 1.4-3 1.2-8.1 2-6.1 2-3.3 2-.8 3 1 5 4 2 .9 15.2 1.4 40.8 7.2 16 5.2 13 6.2 14 1.8 13-.8 17-3 35-4.6 4-1.1 9-3.6 5-.4z"/>
<path fill="#8fff70" d="M730 552l-588.9 0 0-3 2.3-6 1.9-3 4.7-3.5 3-1.3 3 .3 7 2.1 9 5.4 2 .8 2-.3 2-1.6 2-3.4 3.5-9.5 1.1-11-.8-12 1-9 1-3 9.2-12.8 3.1-3.2 6.9-5.3 12.6-5.7 3.4-2.2 3.6-5.8 2-8 2.9-6 2.6-4 4.6-5 3.3-2.3 4-1.6 20-2.3 10.9-4.8 12.1-12.3 24.5-15.7 14.4-10 15.1-9 7-5.7 1.6-2.3 .8-3-.4-4-2.3-10 .3-3 1.4-3 6.6-7 7-4.5 3-1.1 10.2-1.4 8.4-3 3.1-2 1.2-2-.1-2-4.1-4-1.1-2-.2-5 .6-3 2.3-4 5.6-6 3.6-7 2.9-3 14.6-9.3 25-23.8 21.9-17.9 10.5-7 9.6-2.7 6 .1 2.9 .6 2.2 2 1.3 5 1.1 2 2.5 3 2 1 9-1.2 8.5-3.8 15.6-15 1.4-3 1.7-9 2.8-4.2 2-1.3 2 .5 4 3 2 .8 15 .5 42 7.4 16 5.3 13 5.8 16 2.3 11-.6 17-2.9 36-4.9 12-4.6 5-.3z"/>
<path fill="#9fff60" d="M730 552l-547.5 0 0-3 2.6-7 2.2-12 .4-12-1.3-12 .5-8 .9-3 9.4-13 5.8-5.4 4-2.6 14-6 2.6-2 3.7-6 1.9-8 2.2-5 3.1-5 4.4-5 3.1-2.2 4-1.5 19-2.9 11-5.3 2.4-2.1 4.9-6 4.6-4 24.1-15.4 14-9.7 15.1-8.9 7.9-5.8 2.2-3.2 1-4-2.2-12-.1-3 1.2-3 1.9-2.6 5-4.8 6-3.1 11-1.6 11-2.8 5-2 2.9-2.1 2.3-3 .7-3-.5-3-2.8-7-.1-4 4.4-13 1.8-3 3.1-3 12.1-8 23.7-23 29.9-24 3.6-2 6.9-2.2 7 .3 2 .7 1 1.1 1.5 6.1 2 3 2.5 2.3 2 .8 2 0 8-1.9 10.6-5.2 14.4-13.7 2.1-3.3 1.9-7.7 2-2.2 2-.6 7 1.8 10-.5 5 .2 40.9 7 16.1 5.3 13 5.4 19 3.4 10-.6 17-3 35-4.8 4-1.1 8-3.3 5-.4zM164 552l-17.6 0 0-3 1.6-3.9 1.9-2.1 2.1-1.1 3 0 4 1.8 3.9 3.3 1.4 2z"/>
<path fill="#afff50" d="M730 552l-541.2 0 1.9-25-.2-10-1.3-11 .2-6 .6-3 1.5-3 7-10 3.8-4 5.3-4 14.4-5.9 4.2-3.1 3.4-6 1.9-8 2-5 3.5-5.7 4-4.3 2.9-2 3.1-1.2 18-3.6 11-5.3 3.7-2.9 3.7-5 4.6-4 26-16.7 12-8.4 16-9.4 7-4.8 3.3-3.7 1.7-5-.1-4-1.7-9 .3-3 2.4-4 4.1-3.8 6-2.8 12-1.8 12-2.9 5-1.9 4.3-2.8 2.6-3 1.5-4-.2-3-2-9-.2-4 1.4-8 2.4-5 3-3 10.2-7.5 11.8-12.5 11.2-10.7 32.3-25.3 6.7-2.3 5 .3 2 1.2 2.7 6.8 3.3 3.9 4 2 4-.1 8-2.6 11.6-6.2 15.1-14 3.3-6.3 2-2.1 17-1.7 6 .3 39 6.1 30 10.7 17 4 5 .6 7-.3 17-3.4 34-5.1 5-1.1 8-2.9 5-.3z"/>
<path fill="#bfff40" d="M730 552l-535.9 0-.5-30-1.4-16 .1-5 .9-4 2-4 4.8-7 4.5-5 6.5-4.5 14-5.4 3.9-3.1 2.7-5 2.3-10 1.5-4 3.7-6 3.9-4 6-3 16-3.9 12.2-6.1 4.8-3.6 2.5-4.4 3.5-2.9 39.6-26.1 15.3-9 8.1-5.5 3.4-4.5 1.4-4 .2-4-1.5-9 .5-3 1.6-3 2.4-2.4 6-3 14.6-2.6 14.4-3.7 5-2.3 3.9-3 2.8-3 1.3-3 0-3-1.8-10-.1-5 1.1-6 2.6-5 10.2-9.2 10.6-12.8 10.4-10.2 15-12.3 18.9-13.5 5.1-1.5 3 .5 1.9 2 2.7 5 3.1 3 5.3 2.5 5 .1 8-2.9 12.6-6.7 9.4-8.5 6-4.5 6-6.2 4-1.4 12-1.9 32 3 11 2 30 10.5 12 3 8 3 5 .8 6-.4 17-4.1 34-5.6 12-3 5-.2z"/>
<path fill="#cfff30" d="M730 552l-530.7 0-.1-4-2-15-1.7-31 1.1-5 1.8-4 4-6 4.6-5.1 5.6-3.9 13.4-4.6 3-1.6 2-1.8 2.9-6 2-10 1.4-4 2.9-5 3.8-4.2 6.9-3.8 15.1-4.5 12-6.3 5-3.2 1.9-4 3.1-2.8 45.9-30.2 10.1-5.6 8-5.3 3.4-4.1 2.2-5 .5-4-1.1-10 .9-3 2.6-3 5.5-2.5 17.1-3.5 14.9-4 3.6-2 8-6 1.3-2 .4-2-1.6-12 .5-5 1.4-5 2.9-5 7.5-8.9 7.1-11.1 3.9-4.6 6.5-6.4 14.5-12.3 19-12.1 3-1.2 3 .1 6 5.5 3.2 2 6.8 2.3 5 .1 8-3.1 15-7.6 8.2-6.7 13.8-9.7 6.2-2.3 7.8-1.3 30 1.1 11 1.9 13 4.9 29 8.8 9 4.5 7 1.4 4-.3 19-5.4 41-7.5 8-.2z"/>
<path fill="#dfff20" d="M730 552l-524.8 0-.2-4-2.6-8-1.8-8-1.4-22 .1-7 .7-5 1.3-4 2.7-4.3 5.5-6.7 5.5-3.7 14.6-4.3 2.4-1.1 2-1.9 2.3-7 2.4-13 3.3-6 3.5-4 8.5-4.7 12.5-4.3 16.5-9 1.2-1 1.9-4 1.9-1.7 46-30.3 17.4-10 5.7-6 2.5-5 .7-5-.7-9 1.2-3 2.2-2 4-1.6 32-7.8 13.9-8.6 1.3-2 .5-2-1-9 .8-5 2.5-4.7 8-10.4 4.3-12.9 2.3-5 4-5 8.1-8 12-10 3.3-2.1 13-5.7 3-.7 2 .2 7 2.8 7 1.8 6 1.2 3-.2 8-3.3 10-5.3 13-2.2 2-1.1 16.5-13.4 5.5-2.3 6-1 28-1.4 10 1.6 13 5 29 8.9 9 5.6 9 2.2 3-.4 18-5.8 42-7.1 5 1.2 3 0zM537.5 252l2.5-3 .4-2-.4-1.7-1-1.2-2-.9-3 .3-2 2.7-.4 2.8 .4 1.7 2 1.6z"/>
<path fill="#efff10" d="M730 552l-517 0-.3-4-4.7-8-3.2-9-1.2-13 1-20 1.6-5 4.6-7 3.2-3.1 4-2 16-3.4 2.5-1.5 1.3-3 2.8-20 3.1-6 3.5-4 6.2-4 12.6-5 18-9.9 1.2-1.1 1.8-3.4 1.8-1.6 46.2-30.5 14-7.7 4.1-2.8 4.9-5 3.5-6 .9-4 .1-10 1.5-2.3 2.9-1.7 6-2 27.1-7.1 15-8.9 2.2-4 .8-10 2-3.3 8-5.5 8-3.5 7-2.1 2-1.2 1-1.4 .1-2-1.1-1.9-7-4-2.6-3.1-1.2-4 .5-4 2.2-4 7.4-8 7.8-7 6.9-5.3 15-4.1 25 2.9 9-3.5 8-4.1 3-.7 2 1.2 3 3.2 2.9 4.4 2.1 1.6 4 .9 6-.2 4.2-2.3 5.9-6 2.1-4 2.8-10.2 1-1.8 2-1.8 4-1.9 8.5-2.3 18.5-3 3 0 9 1.8 10.7 4.2 28.3 8.8 3 1.4 7 5.2 10 2.7 3-.3 19-6.3 28-4.4 10-.7 2.1 .6 4.9 4.8 4 .3z"/>
<path fill="#ffff00" d="M730 552l-509.6 0-.1-4-1.3-4-8-15-1.4-6-.2-6 1.9-12 0-9 2.1-6 2.6-3.6 3-1.9 16-3.5 3-1.4 1.6-1.6 1.6-4 1.4-20 2.8-6 3.3-4 7.3-5 11-4.8 18-10.1 4.3-5.1 27.7-19 6-3 13-9 17-9.6 5.8-5.4 4.1-6 1.5-4 1.1-9 .9-2 1.6-1.4 8.2-3.6 24.8-6.9 12-6.6 3-2.1 2-2.4 4.2-10 2.8-3.5 7-4.1 14-5.6 5-3.7 1.5-2.1 1.1-3-.4-5-3.2-5.2-6.9-5.8-.4-3 1.2-3 3.5-5 4.7-5 4.9-4.1 5-2.8 11-2.3 15-.2 9 .9 3-.2 16-5.7 3 1 5.6 5.4 3.4 2.1 5 1.1 7-.4 6.2-2.8 6.2-5 3-4 5.5-10 4.1-4.1 5.4-2.9 5.4-2 11.2-2.9 4-.2 9 1.7 9 3.3 23 7.1 8 3.2 8 5.8 10 3 5-.4 19-6.1 14-2 12-1.1 8 .7 9.7 5.9 4.3 .4z"/>
<path fill="#ffef00" d="M730 552l-502.4 0-.2-5-2.1-10-1.5-4-5.8-9-1.1-4-.2-4 2.4-10-.5-10 .6-3 1-2 3.8-3 11-3.2 4-1.8 2.6-2 2-3 .9-4-.5-12 .6-7 1.9-5 3.7-5 8.2-6 8.6-4.1 7.8-4.9 10.2-5.2 6.1-5.8 16.9-11.3 9-6.9 7-3.3 12.5-8.5 17.4-10 6.6-6 3.7-5 1.9-4 2.3-9 2.6-3.2 8-3.8 22-6.5 6-2.7 7-4.1 3.5-2.7 7.5-10.5 4-3.6 6-3.4 14.7-6.5 5.8-4 3.8-5 .9-3 .1-3-1.3-5.5-5.3-10.5-.6-3 .3-2 1.5-3 4.1-4.3 5-2.9 8-2.1 15-1.5 12 .4 15-4.1 3 .6 7.7 4.9 4.3 1.8 6 .7 7-.8 7-2.9 6.8-4.8 3.6-4 7-10 5.6-5 10.4-5 5.6-1.6 4-.2 8 1.3 30.3 9.5 8.7 3.7 9 6.2 9 2.8 3 .3 3-.5 19-5.9 12-1.6 9-.4 6 .3 4 .9 13 7.1 4 .3z"/>
<path fill="#ffdf00" d="M730 552l-495.1 0-.1-4-2.4-13-2.3-5-6.3-9-1.3-4-.2-4 1.7-14 2-4.9 3.9-3.1 12.1-5.7 3.6-3.3 1.8-3 .7-5-1.5-10 0-7 2.2-7 3.7-5 7.9-6 20.6-11.8 4.7-2.2 8.3-6.8 16-10.5 8-6.7 7-2.8 12-8.2 17.4-10 6.9-6 4.1-5 2.4-4 3.1-9 3.1-3.3 7-3.5 22-6.8 5-2.3 9.3-6.1 8.7-9.2 5-4 8.8-4.8 15.4-7 6.5-4 3.8-4 1.8-5-.5-6-3.9-11-.9-4 .6-4 1.2-2 2.2-2 6.2-3 7.5-2 8.3-1.1 12-.1 12-2.8 4 .5 10 4.5 5 1.3 7 .1 7-1.2 8.2-3.2 6.4-4 4.1-4 8.7-11 5.9-5 8.7-4.3 4-.8 4 0 18 3.9 15.7 5.2 8.8 4 9.5 6.4 10 3.2 6-.3 18-5.5 12-1.4 6-.1 6 .6 5 1.2 5 2.2 11 6.5 4 .3z"/>
<path fill="#ffcf00" d="M730 552l-485.9 0-.4-5-4.2-12-3-5-7.1-9-2.2-4-.8-4 .1-5 1.3-7 2.4-4 3.8-3 12.2-7 3.4-3 2.7-4 .6-5-3.6-11-.3-6 1.7-7 4-6 7.6-6 13-8 11.5-6 9.2-6.8 13-8.2 5-3.9 4-4.3 2-1 5-1.1 12.7-8.7 17.3-10.1 7.2-5.9 4.5-5 3.4-5 3.2-8 4.6-4 3.8-2 8.2-3 17.1-5.5 9-5.7 10-8.7 7-4.7 11.8-6.4 19.9-8 6.7-4 3.5-4 1.4-5-.8-5-4.1-10-.9-4 .5-4 3.1-4 5.3-3 5.6-1.6 14-.8 11-2.1 6 .6 11 3.6 5 .9 9-.4 9-1.7 9-3.2 5.7-3.3 4.1-4 10-12 6-5 6.2-2.6 7-.3 13 1.7 10.5 3.2 12 5 13.5 8.5 10 3.1 3 .2 3-.6 18-5.4 16-1 6.6 1.2 5.4 1.8 7 3.8 10 6.5 4 .4z"/>
<path fill="#ffbf00" d="M730 552l-476.4 0-.4-5-3.5-9-5-8-8.7-8-4-5.4-1.5-3.6-.3-6 .8-3.4 2-2.7 5.1-3.9 11.4-7 6.7-5 4-4 2.5-4 .9-3-.5-2-6.1-3.4-2.9-2.6-1.6-3-.7-4 .8-6 1.4-4 3-4 5.5-5 14-9 13.3-7 7.2-5 19.4-12 .8-3 1.8-1.8 2-.7 4 .1 13.5-9.6 17.5-10.4 7.2-5.6 6.7-7 2.9-4 2.3-6 5.7-5 12.1-5 10.1-2.6 4-1.7 7-4.4 12-9.5 19.3-10.8 8.7-3.6 22.6-6.4 4.6-2 2.7-2 1.5-2 1.8-4 1.7-8-.5-3-1.1-2-5.3-5.4-2.3-3.6-.3-4 1-2 1.9-2 4.7-2.1 13-.9 8-1.7 11 .8 9 2.5 4 .5 14-.9 19-3 3-1.3 4-3.3 7.2-7.6 7.2-9 3.6-3.1 3-1.5 4-1 13-.9 9 2.5 7.8 3 9.2 4.8 10 6.5 12 3.7 4-.4 18.3-5.6 12.7-.8 5 .6 10.6 4.2 12.1 8 6.3 6.1 3 0z"/>
<path fill="#ffaf00" d="M730 552l-469.4 0-.6-6-5-12.8-5.6-8.2-7.8-6-2.6-2.7-2.5-4.3-.5-3 1-3 5.2-5 19.8-13.3 4.5-3.7 10.4-10 4.2-6 .6-3-.7-3-1.6-2-2.4-1.3-3 0-6 2.3-4 .8-5-.2-2.4-1.6-1.1-4 .4-5 1.8-4 4.2-5 14.4-10 14.7-7.6 22-12.9 2-.7 5 .5 2-.8 1.4-1.5 .5-2-4.9-2-.1-1 .9-1 2.4 0 1.8 2 1 .2 4.9-5.2 6.8-5 18.3-11.1 7-5.1 11.8-10.8 1.6-2 2.6-5.5 4.8-4.5 10.2-4.1 3-.3 4 .4 2-.8 11-7.8 12-9.4 24-12.3 8-2.7 27.8-5 5.2-2.2 3.2-2.8 2.2-3 3.2-6 2.7-7 .9-6-1.2-11 1.4-2 4.6-2.5 13-1.3 10 2 14-.5 11 .2 4 .8 7 2.7 3 .4 4-.5 8-2.8 4-.3 6 1.1 23 6.6 6 .5 4-.9 2.3-1.5 1.2-2 .2-2-.7-2.6-2.8-3.4-8.4-6-2.2-3-1-3 .2-13 1.2-.8 2 0 4 .8 7.5 3 17.5 10.9 12 3.6 4-.1 19-6 12-.3 4 .5 8 3.5 9 5.9 6.5 6 3.5 6.6 2 2.5 2 1.3 3 0z"/>
<path fill="#ff9f00" d="M730 552l-463.5 0-.7-7-4.1-13-4.4-8-7.6-10-1.3-3-.1-2 1.7-4 3.4-4 17-14 9.6-9 4.1-5 2.5-5 .3-3-.7-3-1.4-2-2.8-2.1-6-1.8-12 .8-2.7-.9-1.3-1.3-.9-2.7 .7-4 3.2-5 4.7-4 14.1-9 27.2-14.2 5-2.1 6-.6 3-1.1 3.4-3 3.7-6 2.8-3 7.8-6 15.3-9 9-6.4 11.6-9.6 5.1-7 3.3-3 6-2.6 9-.3 3-.9 16.4-14.2 6.6-4.6 10-4.1 12-6.7 7-2.7 13-2.2 22-2.2 5.8-1.5 4-2 3.5-3 2.6-4 2.1-5.8 5-19 2.2-3.2 2.8-2 3-1 3-.2 15 .2 6.5 1 6.3 3 9.2 8.1 4 1.7 4 .6 7-1.1 12-6.7 7-1.8 6 .3 11 3.9 6 1.2 7-.5 7.6-2.7 2.7-2 1.7-3 .5-4-.6-4-3.1-6-8.8-7.6-2.1-2.4-.8-3 .5-1 1.4-.4 4.1 1.4 12.9 8.3 15 3.4 5-.3 12.9-4.4 7.1-1.8 9 .2 5 .9 7.4 3.7 8 6 3.7 4 5.4 8 3.7 4 2.8 1.8 4 .3z"/>
<path fill="#ff8f00" d="M730 552l-457.8 0-.5-7-2.4-12-2.3-6-6.7-13-.9-4 .3-3 1.5-4 3.8-5 15-14 8.1-9 3.3-6 .6-5-1.3-4-2.7-2.6-8-2.7-12.3-1.7-3.2-2-.5-1 0-2.4 1-2.8 2.1-2.8 14.6-10 27.3-13.8 5-1.9 7-1.6 5-2.6 3.3-3.1 4.7-7 5.6-5 5.7-4 12.7-7.2 18.4-12.8 10.6-9.3 4-1.9 9-1.2 4-1.4 4-3 9.9-10.2 6-5 4.1-2.1 8-2.5 8-5.1 6-3.1 8-2.5 11-1.5 11-.5 21 .7 5-.6 4-1.1 4.9-2.7 3.2-3 2.6-4 4.3-10 2-2.4 3-1.5 4-.2 11 .5 16 2.1 15-.9 5.3-1.6 11.7-8.3 3-1.5 3-.6 3 .3 9 2.9 5 1 5 0 6-1.2 8-2.8 5-2.9 3-3.9 4-9.5 3-2.8 11-2.6 11.1-4.1 6.9-1.9 5-.4 6 .7 7 2.7 8 5.5 5 5 7.3 9.4 4.5 4 4.2 2.3 4 .2z"/>
<path fill="#ff8000" d="M730 552l-452.4 0-.2-6-1.7-14-1.4-5-5.9-14-.6-4 .5-4 1.1-3 2-3 22.4-24 2.8-5 1-6-1.2-6-2.4-3.9-2-.7-9-.4-7-1.4-2.2-1.6-.4-4 2-3 17.5-15 16-7 12.1-4.4 7-3.6 3.6-3 7-9 7.1-6 12.3-6.6 13-8.6 18-10 4-1.5 8-2 4-1.7 5-4 10-11.6 4.4-4 4.6-2.5 8-1.2 5-5 8-4.4 5.3-1.9 6.7-1.4 16-1 9 1.1 19 5.6 5 .4 5-.8 5-2.1 5-3.5 4.2-4.3 7.8-10 3-2.4 3-1.5 7-1.6 18-1.2 10-1.3 6-2 11-5.5 4-1.1 4-.1 13 1.1 4-.3 5-1.3 10-3.8 6-3.5 3.8-3.5 7.2-9.2 5-3.4 12.9-5.4 6.1-1.9 6-.6 5 .7 7 2.7 7 4.6 5 4.6 7 7.9 5 4.1 6 3.3 5 .6zM298.4 445l1.6-1.9 .3-2.1-.4-1-1.9-.8-1.2 .8-.9 3 1.1 2.3z"/>
<path fill="#ff7000" d="M730 552l-447 0-1.6-19-1.4-7-4-14-.4-4 .4-3 2.4-5 5.2-7 6.4-7.4 11.6-11.6 2.3-4 .7-4-.6-4-3-10 1.3-11-.8-2-1.5-1.7-3-.7-2.7 1.4-1.1 2-1.3 6-2.5 3-2.4 .9-2.8 .1-1.5-1 .2-1 9.2-10 2.6-7 1.6-2 17.7-6.2 18-9.3 3-2.6 6.9-8.9 4.4-4 14.7-7.7 11-6.5 17-5.8 16-3.9 4.8-2.1 4.1-4 7.1-12 6-7.4 5-3.1 7.4-.5 2-4 1.6-1.8 7-3.5 6-2.1 9-1.6 15-.2 6 1.8 11 6.4 6 2.6 7 1.6 7-.6 6.6-2.6 6.4-4.4 5.4-5.6 7.6-10.9 3-2.5 3-1.6 8-1.9 23-3.1 21-5.9 16-1 7-1.6 10-3.9 7-3.7 7.9-5.9 8.1-7.3 6-3.7 14-5.5 4-.5 5 .5 7 2.3 7 3.4 4 3 8 7.8 6.1 4 6.9 3.3 5 .5z"/>
<path fill="#ff6000" d="M730 552l-441.7 0-1.4-18-3.6-26 1-4 3.2-7 5.5-7.6 3-2.9 10-6.3 27.9-9.2 3.9-2 1.5-2-1-3-5.3-3.7-4-1.1-12-1.5-5-2-4-2.8-2-2.4-1-2.5-1-8-3-6 .5-2 3.5-1.1 7 .8 3-1.1 4-3.2 4.5-6.4 2.3-2 2.2-.9 6-.5 2-.7 3-2.8 6-7.4 4-3.4 4-2.4 17-7.7 6-2.2 23-6.3 15-2.6 7.5-3.1 1.5-1.4 1.3-3.6 2-13 4.5-9 2.2-2.9 1.6-1.1 6.4-1 3.2-5 12.8-4.5 11-1.5 11 .3 3.9 1.7 9.2 8 2.9 1.7 13 3.6 10-.5 9.5-3.8 9.1-6 6.6-7 4.7-9 3.1-2.4 10-3 35-6 19-2.1 5-1 10-4 11-5.4 7.2-5.1 6.8-3.1 7-5.1 9-2 9-5.2 5-.3 13 2.5 4 2.2 7 6 5.4 3 10.6 4.6 5 .5z"/>
<path fill="#ff5000" d="M730 552l-436.3 0-2.2-31-.1-11 1.2-6 2.1-5 3.3-4.8 4.1-3.2 6.9-2.9 38-9.8 4-1.7 3.5-2.6 2.3-3 1.3-3 1.2-7-1.2-8-5.4-15-1.5-6 .1-7 .9-3 1.6-3 3.8-4 9.4-7 8.2-5 10.8-5.6 15-6.1 21.1-5.3 5.8-3 2.4-3 1.6-4 1.4-14 2.5-9 1.8-2 5.3-2 3.1-3.2 12-3.7 9-.8 6 .5 6 2 9 7.4 5 2.6 14 2.8 10-.3 12-3.8 11-5.7 8.5-6.8 7.5-8.8 5.1-3.2 5.9-2 9-1.8 17-1.5 11 1.2 7 2.7 3.5 3.4 5.5 10.3 3.6 4.7 2.4 1.8 2.7 1.2 5.3 .2 4-1.6 4-2.7 6-5.5 5-5.7 12-18.1 10.6-19.6 3.4-4.7 2-1.8 3-1.5 3-.4 5 .2 7 1.8 8.9 5.4 7.4 3 9.7 3.6 5 .4z"/>
<path fill="#ff4000" d="M730 552l-430.7 0-.9-23 .3-11 1-7 1.7-5 2.6-4.3 4.2-3.7 11-5 32.8-10.9 5.7-3.1 4.7-4 4.2-6 2.8-8 .5-8-1.6-15 0-7 1.7-7 3.3-6 4.3-5 4.3-4 6.6-5 6.5-4 10-4.5 20-5.8 4-1.8 3.9-2.9 3.3-4 2.2-5 1.1-5 1-10 1.3-4 2.6-3 4.2-3 3.4-1.5 5-1.2 5-.4 5 .2 7 2 11 6.6 7 2.6 13 1.9 11-.4 13-3.1 14.8-5.7 8.2-4.6 12-8.6 5-2.5 7-1.9 8-.6 7.1 1.2 6.9 3.3 5 4.1 10.1 10.6 5.9 4.3 7 2.3 4 .3 4-.5 4-1.4 5-3.5 5-5.1 6-7.3 4.6-7.1 6.9-14 5.5-9.8 11-16.1 4-2.9 5-.5 6 1.1 10.4 4.2 17.6 5.3 5 .4z"/>
<path fill="#ff3000" d="M730 552l-424.7 0-.1-19 .9-10 1.9-8 2.9-6 4.1-4.7 6.1-4.3 10.9-5.7 8-3.3 15-5 6.4-3 7.1-5 6.3-7 3.7-7 1.8-7 .3-7-.7-14 .8-8 3-8 4.9-7 6.3-6 8.1-5.3 8-3.4 17-5.3 5-2.4 4-2.8 4-3.8 2.9-4 2.5-5 3.7-11 1.9-3 2.5-2 4.5-1.6 6 0 6 1.4 11.8 4.2 6.2 1.5 12 1.1 12-.2 11-1.8 20-5 11.8-3.6 16.2-6.5 5-1.2 5-.3 6 1 6 2.4 16.8 11.6 6.2 3 9 1.5 10-.8 5-2 4.8-3.7 6.2-6.5 6.7-8.5 4.3-7.4 6.5-17.6 3.5-6 5-6.7 5-5.6 3-2.6 3-1.5 4-.4 24 4.4 9 2.7 4 .2z"/>
<path fill="#ff2000" d="M692 552l-380.2 0 0-7 1-12 2.5-11 3.7-8 5.6-7 7.1-6 6.6-4 6.7-2.8 16-5.2 10.4-5 9.5-7 7.1-8 3.2-6 1.5-7-.2-6-2.1-16 .2-5 .9-5 2.5-6 3.5-5 4-4 5.6-4 6.2-3 16.7-5.3 8.1-3.7 8.7-6 13.2-12.9 4-2.4 4-1.1 6-.4 20 .3 19-.8 26-4.3 24-1.9 15-4.2 6-.8 5 .5 5 1.5 15 8 7 2.3 10 .5 9-.7 5-1 4-2.2 5.3-4.4 16.1-18 2.9-6 2.1-12 2-6 4.5-7 6.1-6 5-3.6 5-1.6 23 .6 10 2.7 4 .1 0 237.2-16-.7-12 .7-4.3 1.6-4.5 3-.8 1 0 3z"/>
<path fill="#ff1000" d="M676 552l-356.9 0 0-3 .6-6 1.3-6 4.6-13 6.6-13 2.9-4 3.9-3.9 3-2.1 4.2-2 22.8-6.7 14-5.9 9.5-5.4 13.8-9 10-7 4.3-4 1.2-3-.7-2-9.1-7.5-5-5.2-4-6.3-2.2-7 0-7 2.2-6 4-5 6-4.7 5-2.2 13-3.9 10-3.7 24-12.7 7-3.1 11-3.2 13.5-2.5 18.5-1.7 16-2.6 8-.5 8 .7 14 3.4 5 .4 5-1.5 11-5.9 6-1.2 8 1.7 12 5.1 8 1.7 5 0 20-2.3 3-1.5 5.2-3.8 14.8-14.1 7.8-5.9 2.7-3 1.2-4-1.4-11 .3-5 2.1-5 3.3-4 7-4.7 7-2.8 19-2.9 6 .2 7 2.2 4 .2 0 227.1-16 .1-15 2.5-12.4 5.1-6.6 3.4-3 2.6 0 3z"/>
<path fill="#ff0000" d="M656 552l-327.3 0 0-3 .8-3 4.5-9.9 6.1-10.1 1.9-11 2.3-6 1.7-2.3 8-3.5 32-6.7 32-10.8 11-4.7 4-2.6 7-5.5 6.9-8.9 1.2-3 2-12-.2-3-2.2-6-3.7-5.2-2.4-1.8-14.6-2.8-9-2.8-2-1.1-2.3-3.3-.8-3 3.2-6 2-2 26.9-9.1 42-17.3 14-4 28-3.4 9 .2 4 .9 10 3.6 6 2.9 3 .6 9-1.4 15-9.4 3-1.2 8 .6 9 3 11 1.4 26-3.2 8.4-5.2 17.6-14.3 17.2-6.7 9.8-4.7 6-2.2 1-1.1 0-2-.7-1-5.3-3.2-2.1-2.8-.8-2-1.3-10 1.2-2 3.3-3 8.1-4 10.9-4 3.7-.1 7 2.4 4 .3 0 216.5-16 .8-24 6.6-13 2.8-10 4.9-9.3 5.8-1 1 0 3z"/>
<path fill="#ef0000" d="M592 552l-241 0 0-3 5.2-15 3.4-12 1.4-2.6 2-2 3-1.4 5-1 6 .1 15 1.8 4-.4 5-1.9 11-7.2 20-15.5 10-9 7-8 4-6.1 2.5-5.8 1.9-8 .5-7-1.9-9.4-7.8-16.6-1.1-5 .5-2 1.9-3 6.3-5 9.2-4.8 12-4.7 14-4.4 13-2.9 10-.7 8 1 5 2.3 6.3 5.2 3.7 1 11-3.4 13-2.3 8-2.3 16-8.4 5-1.8 6-.3 10 1.6 11 .4 26-4.2 6.1-3.3 20.9-14.2 29-9.6 6.4-3.2 3.4-4 1.1-4-.4-4-3.7-11 .1-4 1.4-3 4.7-4.6 5-2.3 4 .3 6 2.4 3 0 0 203.1-8 .3-8 1-22 6.6-18 2.6-18 4.3-7 .7-6-.6-8-2.9-6-4.8-4.8-7.1-5.9-14-2.3-4.1-2-2.4-2-1.4-3-.2-3 1.8-2.8 3.3-2.4 4-2 5-1.4 7-1.2 17-3.8 15zM535.5 443l2.5-2.1 3-3.8 2-3.5 1-3.6-.9-4-2.1-3.7-3-2.7-2-.5-3 1.6-2.3 3.3-2 5-.7 5 .4 4 1.7 4 .9 1.1 2 .8z"/>
<path fill="#df0000" d="M573 546l-3 .5-2-.6-2.5-1.9-1.9-3-.8-3-.3-4 2.5-12-.1-4-2.4-5-10.4-15-2.5-6-1.5-6-1.7-15-2.7-13-.2-5 .7-6 3.8-15.8-.9-13.2 .2-4 1.1-4 1.7-3 2.9-3.1 4.4-2.9 30.6-14.4 7-1.4 14 .5 8-.3 26-4.9 5.6-2.5 22.4-13.2 27-8.8 7-2.8 3.8-2.2 3.2-2.9 2.2-3.1 1.3-3 .5-6-1.7-12 .5-3 1.1-2 2.1-1.8 2-.4 7 2.2 3 0 0 185.5-11 .2-10 .9-7.1 1.4-14.9 4.4-9 1.8-17 2.4-10-.1-7-1.9-7-4.4-4-4.2-9.1-12-4.9-4.5-5.4-2.5-5.6 0-6 2.8-6.6 5.2-12.5 12-6.5 8-1.4 3-.3 3 3.3 11 .6 6-1.6 5.4-2 2.4zM513 552l-83.8 0-2-23 .7-7 1.9-7 2.8-6 4.2-7 15.6-20 4.6-6.7 4-8.1 2.5-8.2 1.1-7-.1-6-1.3-7-4.1-14-.4-4 .8-4 3.5-4.9 5-3.4 8-3.2 10-2.5 12-1.1 6 .6 4 1.1 3 1.5 3.4 2.9 2.6 4 1.3 4 .3 5-1.4 19 .7 26 1.6 12 4.5 19 .6 10-1 9-2.4 11-3.1 10-4.4 11-.3 4z"/>
<path fill="#cf0000" d="M657 501.1l-8-.2-6-1.7-4-2.5-15-12.7-5-2.7-5-1.3-5 .2-5 1.4-17 9.1-8 3-4 .5-4-.4-4-1.6-3-2.1-4.5-5.1-3.5-6.7-3.7-11.3-2.3-10-.3-9 1.7-25 .8-5 1.3-4 3.4-5 5.1-4.3 18-9.9 8-3.7 8-1.8 14-.4 7-.7 26-5.6 5-1.9 15-8 10-4.7 25-8.1 9-3.4 6-3.2 4.1-3.3 4.6-6 4.3-9.3 1-.9 3 0 0 157.8-12-.2-10 .9zM488 552l-28.5 0 0-3-7.3-8-4.3-7-2.5-7-.9-8 .8-8 3.1-9 3.8-7 8.4-12 3.5-6 3.6-8 3.2-10 1.1-7 .1-6-1.1-7-3.1-13-.2-3 .7-3 2.3-3 3.3-2 6-1.8 6-.6 7 .7 6.4 2.7 4 4 2.7 6 1.3 11-.1 32 3.1 35-.9 13-1.4 6-2.1 5.3-3 5.4-4 5.5-10.3 9.8 0 3z"/>
<path fill="#bf0000" d="M653 488.1l-6-.2-5-1.3-6-2.9-13-7.6-7-2-4-.1-5 1-17 7.2-8 2.2-4 .2-3.7-.6-3.3-1.2-3-1.9-4-4-3.7-5.9-2.9-7-2-8-.7-7-.7-20 1-6 2.5-6 3.8-5 6-5 12.7-7.7 8-3.8 8-2.3 13-.9 7-1 28-6.8 31.6-13.5 35.6-12 6.5-3 8.3-5.3 4-.3 0 129.7-12-.3-27 4.3-21 .6zM481 527.2l-5 .6-4-.7-4-1.9-3-2.4-2.9-3.8-1.8-4-.9-4-.1-5 1.7-6.5 10.8-16.5 6.2-15.1 6.6-11.9 1.5-6-.5-13 .6-2 1.8-1.3 3 1.3 2 3 .5 2-1.7 14 3.2 22.3 1.1 18.7-.1 11-1.4 8-2.6 5.4-5 5zM587.3 456l2-2 .2-3-2.1-2-2.4 0-2.1 2-.6 2 .3 2 1.4 1.4z"/>
<path fill="#af0000" d="M652 476l-8 .6-6-.9-4.1-1.7-9.9-6-7-1.7-5 .4-5 1.2-12.4 6.1-6.6 2.1-8 .2-6.8-2.3-4-3-3.2-3.8-2.4-4.2-1.9-5-1.1-5-1.1-11-2.2-10 .2-4 1.5-4 5-7 7.8-7 10.3-7 9-4 6.9-2 14-1.5 32-8.6 16-6.5 24.7-8.4 40.3-12.8 5-.5 0 111.5-18-.2-21 3.6-22 0zM584.3 460l7.7-2.6 2.5-2.4 .7-2-.3-3-1.6-3-3.3-3-3-1.2-3 .1-2.1 1.1-1.9 2.6-1.1 4.4-.1 4 1 3 2.2 1.8z"/>
<path fill="#9f0000" d="M642 461.2l-4-.2-7.7-3-8.3-2.3-11-.1-4-1-3-2.4-5.7-7.2-6.3-6.2-5-3.2-10-4.1-5.4-3.5-1.4-2 .9-4 5.2-7 7.7-6.7 3.7-2.3 9.3-3.9 15-2.4 35-11 13-4.9 14-3.1 36-11.8 12-2.1 8-.4 0 85.9-4-.2-3-1.9-2-2.9-3.1-7.3-2.4-3-2.6-2-4-2-12.9-4.3-5-.7-5 1.6-5 3.6-5.4 5.8-8.6 11.3-4 3.6-4.3 2.1zM572 455.3l-1.3-.3-1-2 .2-3 1.1-1 1 .4 .9 2.6z"/>
<path fill="#8f0000" d="M634 444l-8 .8-11-.2-6-1.3-5-2.3-4.6-4-9.3-12-1.2-3-.2-2 1.2-4 3.9-4 5.3-3 12.9-3.9 13.2-5.1 32.2-11 5.6-1.2 12-1.1 8-1.4 31-9.7 6-.6 10 .7 0 25.8-13-.7-7 .4-8 1.5-8 2.7-8 5-16 14.3-9 6.8-19 9.9z"/>
<path fill="#800000" d="M628 431l-5 .2-5-.7-4-1.9-2.4-2.6-1.5-4 .4-3 2-3 3.4-3 4.5-3 5.6-2.8 27-10.3 5-1 5 0 3.9 1.1 2.6 2 1 3-1 4-3.4 5-5.5 5-7.6 5-11 5.5-8 3.2z"/>
</g>
<path d="M153.5 54V547M235.8 54V547M318.2 54V547M400.5 54V547M482.8 54V547M565.1 54V547M647.5 54V547M74 72.5H725M74 168.4H725M74 264.3H725M74 360.2H725M74 456.1H725" fill="none" stroke="#8c8c8c" stroke-width="1" stroke-dasharray="1.6 4.9" shape-rendering="crispEdges"/>
<g clip-path="url(#m)" shape-rendering="crispEdges"><path d="M475.5 87l-8 5.5-6.2 7.5-5.1 12.5-1.7 12.5 2.5 12.5 1.8 12.5-.8 12.5-.5 12.5 3.8 11.2-1.3 5.1-10 3.2-22.5-1-12.5-4.8-12.5 .3M448.8 203l3.7-2.2 13.8 .4 3.2 2.1-4 1.9-14.2 .1-2.6-2.3M541.2 93.3l-1.9-1.1-4.8-3-7.5-1.9-7.5 .4-12 .5-7.5 1.8-5 2.5-12.5 2.5-7.5 5-2.5 7.5 2 12.5 .5 10 7.5 10 6.2 10 6.3 12.5 6.2 15 3.3 15 1 11.2-2-1.2-3.5 2.5-12 3-13 4.5-15 2-22.5 0-12.5 3.5-10 7-15 5-7.5 3.8-10 1.2-7.5-3.8-1.2-6.7M593.8 150l3.7 5 6.2 4.5 3.8 2.2M707.5 163l-7.5 4.5-15 1.2-20 2.6-17.5 3.7-12.5 0-17.5 2-7.5-1.2-12.5-.8-8.8-3.8-13.7 2.6-15-.6-2.5-5.7-2-4-3.8-9-3.7-7.5-1.5-9-3-9-7.5-10.5-3.8-13.5-3-7.5-4.5 0-6 1.5-3.7-.8-7.5 .8-7.5 2.2-2.5 11.3-1.2 7.5 6.2 10 3.8 10 1.2 10 2.5 15 3 15 1.5 15-1.5 5-2 10-1.5 5-5.5 1-5.5 .2-4 .6-11.5-.8-23 .7-10 2.1-15 3.7-10 7-10 8-15 8-15 4.5-15-1.2-16.2-3.8-8.8-7.5 7.5-5 3.8-8.2M295 318.8l3.8 8.7 2.4 10 .5 6.5-2.2 9-1.5 7.5-6 3.7-7.5 1.5-7-5.7 3.8-5 3.7-2.5M275.5 380.5l4.5 .8 2.5 3.7-3.8 4.5-4.9 .5-3.8-2.5M720 170l-8.8 4.5-6.7 5.5-3.2 11.2-8.8 3.8-3.8 .8 3-7.6-9.2-1.4-8.8 1.9-9.2 3.3 2.5 5.5-8.2 4.2-16.3-1.7-10-5-13.8-2.5-8.7 3-17.5 2-17.5-3-15-2-3.8-7.5-6.2-12.5-6.2-12.5-4.5-4-1.8-10.5-7.5-12.8-2.3-2.5-1.5 2.5-6.7 12.8 .7 10.5-1.5 9 1.3 10 1.2 12.5 1.3 12.5-3.5 0-2 10-2.5 9-5.5 4-9-3-7-.2-9-.4-24 .6-20 9.5-12.5 9.2-12.5 11.3-15 11.2-12.5 1.3-12.5 1.2-10 2.6-10 1.2-8.8 2-16.2 1.8-6.2 6.2-3.8 12.5-2.5 10 1.2 12.5 .8 12.5 1 10-.3 9-.9 9-3.3 7.5-6.8 6.7-5.2 5.3-1.5 3.7 5.2 4.5 3 5.3-5.2 4.5-6 5.2-6 5.3-6.8 4.5-8.7 9.7-4.5 2.3-10.5 0-7.5-3-7.5-1.8M209 421.7l-15 4-2.8 3.8-3.7 5.5-5 7.5-7.5 10-7.5 10-7.5 10-7.5 7.5-10 6.2-8.8 5.1-7.4 8.7-6.3 10-5 10-2.5 12.5-1.2 15.5M302.5 258.8l3.8 9.9 4.9-18.7M725 208l-15 4.5-20 3-17.5 2.5-12.5 3.2-10 .6-5 .7-12.5-.5-5-4.5-12.5-6.2-15-4.3-15-1.5-12.5-1.8-12.5-1.2-10-2.5-7.5-10-3-10-4.5-2.5-5 5-2.5 17.5-2 15-1.5 8-9 7-7 4-8-5-8-4.5-3.7-.7-3.8-.3-14.5 1.5-10 2.5-10 6.2-12.5 7.6-12.5 12.4-12.5 12.6-12.5 11.2-15 3.8-15 7.4-10 5.1-10 6.2-7.5 7.5-1.2 10 4.9 10 3.8 3.8-4 3.7-4.5 6-4.5 7.5-2.3 7.5 1.5 5.2 3.8 6-2.3 6.8-8.2 5.2-7.5 5.3-7.5 5.2-7.5 5.3-7.5 5.2-7.5 5.3-7.5 4.5-4.5 5.2-6.5 6.8-7.5 2.2-4.5 0-10.5-.7-15 0-7.5 1.5-7.5 2.2-6 4.5-6.8 6.8-4.5 6-1.5 7.5-2.2 7.5-6 6-7.5 4.5-6 6-3.8 6-.7 3 .2 7.5-6.2 7.5-7.5 7.5-10 7.5-12.5 7.5-8.8 7.5-4.9 8.8-3.8 9.2M725 218l-10 4.5-20 3-17.5 2-17.5 3-11.2 .8-16.3-2.6-12.5-5.7-15-5-15-2.5-15-3-15-2.5-13.8 0-6.2-5-3 2-3.5 5-1.5 10-8 8-8 8-9 4-10 1.5-5.2-6.5-.3-5-2.5-2.5-9-.5-10 3-10 7-10 8.5-12.5 10-12.5 12-12.5 11.8-12.5 7.4-5 5.1-2.5 6.2-6.2 6.2-2.6 5.1 .1 7.4 6.2 5.1-3.8 6.2-11.2 3.8-11 1.2-7.5 4.5-6 6-3 6 1.5 7.5 1.5 6-1.5 6.7-7.5 6-9 5.3-7.5 4.5-7.5 5.2-7.5 5.3-7.5 4.5-7.5 5.2-7.5 4.5-7.5 6.8-5 6-7.5 3.7-6 1.5-16.5 1.5-6 2.6-4.5 4.2-4.5 6-3.8 7.5-.7 6-4.5 7.5-7.5 3.7-9 3.8-7.5 6-4.5 6-7.5 10-1.2 12.5 1.2 10-1.2 12.5-3.8 10-5 5-5-2.5-7.5-5-10-2.5-7.5 5-3.8 8M725 240l-3.8-5-11.2 1.2-15 2.6-15 2.4-10 3.3-10 3.5-12-3.3-6-5.2-9-3-12-3.8-10.5-3-10.5-4.5-10.5-1.9-9 1.2-10.5 1.5-10.5 2.2-6 3-2.3 6.8-1.5 7.5-3.7 6-6 5.2-6.2 .3-5-.8-3.8-6.2-6.2-5.5-10.8 6-9 3.7-9-1.5-7.5-.7-9-1.5-7.5 2.2-7.5 2.3-7.5 6-6 5.2-6 6-4.5 5.3-1.8 6 1 6 3.8 5.2 6.7 4.5-8.2 2.3-9 4.5-7.5 5.2-3 5.3 .7 7.5-2.2 6-15 8.7-9 2.3-9 2.2-9 2.3-7.5 2.2-3.8 3 .5 6.8-.5 7.5-3.7 6.7-6 6-9 5.3-7.5 3.7-7.5 5.3-7.5 5.2-9 5.3-9 6-9 6-7.5 5.2-2 5.3-9 3.7-9 5.3-9 3-6 3-6 4.5-3 4.5-2.3 4.5-.7 7.5-1.5 9-1.5 6-9 2.2-10.5 2.3-6 4.5-6.8 10-1.2 12.5 0 12.5 1.2 12.5 3.8 10 3.8 5.5M725 275l-2.5-6.2-7.5-6.3-10-6.2-10-3.8-15 .5-10 3.2-11.2 3.3-13.8-4.3-7.5-5.2-9-5.3-9-3.7-9-2.7-4.5 .9 1.5 3.3 2.2 4.5-3 3-1.9 6 1.9 6 3.8 6 7.5 3 3.7 1.8-9.7 1.9-7.5-1-6.8-3.5-4.5-5.2-3.7-5.3-4.5-.4-6 1.9-7.5 6.8-4.5 2.2-9-1.5-9.2 .8-18.8 1-10-2.8-6 .8-6-1.2-6 1.9-9 .8-6 .7-2.6 3 5.6 3.8 6 5.2 1.5 6.8-3 7.5-3 6-3 5.2-4.5 3-9 2.3-10.5 2.2-10.5 2.3-9 3.7-6 3.8-14 7-12.5 10-12.5 7.5 0-2.3-9 3-9 3.8-6 5.2-1.5 5.3-4.5 5.2-6 6-9 6.8-9 5.2-7.5 4.5-7.5 5.3-7.5 5.2-7.5 5.3-9 5.2-9 5.3-9 6-8 2.2-9 6.8-9 6-6 6-3 6-.8 7.5 3 5.2 9 0 6.8-3 3.7-2.2 3 3-1.5 6-3.7 4.5-6 6-6 6-11.5 7.5-10 6.2-7.5 6.3 0 7.5 5 7.5 10 7.5 6.2 10 3.8 10.5M725.7 299.5l-9.7-4-7.5-3.8-6-5.2-6-3-9-1.2-6.8 0-5.2 4.2-4.5 3.7-8.3 .5 3.8 3.3 1.8 4.5-4.1 4.5-1.5 8.2-4.9 6-3-6-.6-6.7-2-6.8-3-.7-3.7 3.7-7.5 3.8-9 4.5-9 3.7-5 1.1-20 1.7-20 3.2-15 2.6-10 3.7-5 10-7.5 7.5-10 6.2-10 3.8-8.8 .5-16.2-4.2-6.2-6.3-6.3-5-12.5-.5-12.5 1.8-12.5 4.9-10 7.6-5 11.2-.5 10-2 7.5-10 3.8-15 2.4 0 .5-9 2.3-9 3-9 3-9 3.7-9 4.5-9 5.3-3.8 4.5-5.5 6.7-5-.7-5.2-.3-1.8 1.5 .3 7.3-6.2 8 1.2 9.5 6.2 3.8 8.8-.1 5 6.3 7.5 6.2 1.2 10.1-13.7 3.7-15 3.8-15 3.7-10 6.2-6.2 8.8-3.8 10 1.2 12.5 1.8 12.5 1.5 15.5M318.8 435.5l-5.1 2-7.4-5-3.8 5 3.8 11.2 3.7-4.9 8.8-8.3M639.5 325.5l4.5-1.5 6-1.2 0 1.9-6 1.1-4.5 .4 0-.7M725.7 310l-6.7-2.5-6 .7-7.5 3-7.5 3-9 6 2.2 4.5 .5 8.3 4.8 6 6 3.3-7.5 2.7-9 4.5-9 3.7-9 3-4.5 3.8-6 5-7.5 6.2-7.5 5.1-12.5 1.2-12.5 2-12.5-1.5-7.5-3-9.5-1.2-10.5 6.2-7.5 5-10 1.2-7.5-3.7-12.5-4.5-10-.5-12.5 2-17.5 1.8-12.5 3.7-12.5 5-15 6.2-15 6.3-15 5-12.5 3.8-6.2 8.7 3.7 7.5 12.5 3.8 15 2.4 5 6.3 2.5 7.5-2.5 15-7.5 10-10 7.5-15 6.2-15 5.1-15 4.9-17.5 3.8-15 3-7.5 3.2-3.8 8.8-1.2 10-6.2 10-5.8 13M681.5 321l-2.3 3.7 1.5 3 2.3-2.2M658.8 548l8.7-5.5 10-5 12.5-2.5 12.5-3.8 12.5-3.2 12-.5M727 363.8l-7 1.2-10 2-12.5 4.2-12.5 3.8-12.5 4.5-12.5 3-12.5 5-12.5 3.8-12.5 3.7-12.5 3.8-12.5 1.2-12.5 5-10 7.5-7.5 7.5-5 6.2-2.5 3.8 0-1.2 1.2 4.9 8.8 1.3 5 5 1.2 10 0 10 3.8 7 7.5-5.8 12.5-1.2 10 0 10-1.2 10 3.7 7.5 6.2 7.5-1.2 7.5-3 7.5 0 5-.8 12.5-2.4 3-2.6 2 3.3 7.5 1.8 10-3.8 10-2 10 3.2 7 .8M682.5 445l6.2-8.8 7.5 .8-2.5 8-5 2-6.2-2M474.5 359.5l3-3.2 1.5 3.7-4.5-.5M275 402l1.5 4.2-1 5.1-2-1.3 .2-5 1.3-3M721.2 385l3.8 .5M145 458.8l2.5-2.3 2.5-1.5" fill="none" stroke="#000" stroke-width="1" stroke-linejoin="round"/></g>
<ellipse cx="345" cy="325" rx="2.6" ry="2.2" fill="#fff" stroke="#000" stroke-width="1.3"/>
<rect x="514.8" y="92.7" width="8.0" height="10.8" fill="#fff"/>
<text x="518.8" y="102.5" font-size="11" text-anchor="middle">5</text>
<rect x="518.6" y="120.2" width="16.7" height="10.8" fill="#fff"/>
<text x="527.0" y="130.1" font-size="11" text-anchor="middle">5.5</text>
<rect x="606.0" y="170.2" width="8.0" height="10.8" fill="#fff"/>
<text x="610.0" y="180.1" font-size="11" text-anchor="middle">5</text>
<rect x="650.4" y="196.2" width="16.7" height="10.8" fill="#fff"/>
<text x="658.8" y="206.1" font-size="11" text-anchor="middle">5.5</text>
<rect x="646.0" y="216.9" width="8.0" height="10.8" fill="#fff"/>
<text x="650.0" y="226.8" font-size="11" text-anchor="middle">6</text>
<rect x="640.4" y="225.7" width="16.7" height="10.8" fill="#fff"/>
<text x="648.8" y="235.6" font-size="11" text-anchor="middle">6.5</text>
<rect x="656.0" y="242.4" width="8.0" height="10.8" fill="#fff"/>
<text x="660.0" y="252.3" font-size="11" text-anchor="middle">7</text>
<rect x="650.4" y="253.9" width="16.7" height="10.8" fill="#fff"/>
<text x="658.8" y="263.8" font-size="11" text-anchor="middle">7.5</text>
<rect x="489.1" y="203.7" width="16.7" height="10.8" fill="#fff"/>
<text x="497.5" y="213.6" font-size="11" text-anchor="middle">4.5</text>
<rect x="494.2" y="210.2" width="8.0" height="10.8" fill="#fff"/>
<text x="498.2" y="220.1" font-size="11" text-anchor="middle">5</text>
<rect x="484.0" y="217.2" width="8.0" height="10.8" fill="#fff"/>
<text x="488.0" y="227.1" font-size="11" text-anchor="middle">6</text>
<rect x="488.4" y="238.2" width="16.7" height="10.8" fill="#fff"/>
<text x="496.8" y="248.1" font-size="11" text-anchor="middle">6.5</text>
<rect x="524.8" y="250.7" width="8.0" height="10.8" fill="#fff"/>
<text x="528.8" y="260.6" font-size="11" text-anchor="middle">7</text>
<rect x="549.1" y="264.4" width="16.7" height="10.8" fill="#fff"/>
<text x="557.5" y="274.3" font-size="11" text-anchor="middle">7.5</text>
<rect x="346.6" y="261.9" width="16.7" height="10.8" fill="#fff"/>
<text x="355.0" y="271.8" font-size="11" text-anchor="middle">5.5</text>
<rect x="366.6" y="309.4" width="16.7" height="10.8" fill="#fff"/>
<text x="375.0" y="319.3" font-size="11" text-anchor="middle">6.5</text>
<rect x="332.2" y="414.9" width="8.0" height="10.8" fill="#fff"/>
<text x="336.2" y="424.8" font-size="11" text-anchor="middle">8</text>
<rect x="254.2" y="412.4" width="16.7" height="10.8" fill="#fff"/>
<text x="262.5" y="422.3" font-size="11" text-anchor="middle">5.5</text>
<rect x="261.5" y="418.1" width="8.0" height="10.8" fill="#fff"/>
<text x="265.5" y="428.1" font-size="11" text-anchor="middle">6</text>
<rect x="504.8" y="347.4" width="8.0" height="10.8" fill="#fff"/>
<text x="508.8" y="357.3" font-size="11" text-anchor="middle">8</text>
<rect x="579.1" y="368.6" width="16.7" height="10.8" fill="#fff"/>
<text x="587.5" y="378.6" font-size="11" text-anchor="middle">8.5</text>
<rect x="654.0" y="311.9" width="8.0" height="10.8" fill="#fff"/>
<text x="658.0" y="321.8" font-size="11" text-anchor="middle">8</text>
<rect x="680.4" y="314.9" width="16.7" height="10.8" fill="#fff"/>
<text x="688.8" y="324.8" font-size="11" text-anchor="middle">8.5</text>
<rect x="134.2" y="480.6" width="16.7" height="10.8" fill="#fff"/>
<text x="142.5" y="490.6" font-size="11" text-anchor="middle">5.5</text>
<rect x="144.2" y="529.4" width="16.7" height="10.8" fill="#fff"/>
<text x="152.5" y="539.3" font-size="11" text-anchor="middle">6.5</text>
<rect x="246.7" y="459.9" width="16.7" height="10.8" fill="#fff"/>
<text x="255.0" y="469.8" font-size="11" text-anchor="middle">7.5</text>
<rect x="656.0" y="458.9" width="8.0" height="10.8" fill="#fff"/>
<text x="660.0" y="468.8" font-size="11" text-anchor="middle">9</text>
<g clip-path="url(#f)"><path d="M335.8 103l4.2-6.8 10-3.2 12.5 11.5 4.5-4 8 10.8 10 10 3.8 10 8.7 7.4-1.2 11.3-7.1 3.2-4.2-8.2-8.8-14.5-7.4-5.5-10.1-1.2-8.7-6.3-8.8-6.2-5.4-8.3M482.5 53l-12.5 5.8-17.5 6.2-8.8 5-2.4 3.8 4.9 3.7 1.3 10-2.5 6.2-7.5 6.3-10 3.8 1.2 7.5-3.7 8.7-7.5 8.8-10 11.2-3.8 7.5-3.7 5-7.5 5-8.8 6.2-8.7 8.8-5 6.2-6.2 10.1-8.8 4.2-11.2 7-1.3 2.5-12.5 8.8-12.5 8.7-12.5 8.8-12.5 7.4-10 5.1-10 6.2-10 10-9.5 10 5.8 7.5 3.7-5 5 3.8 7.5-.1 1.2 11.3 2.6 8.8-.1 6.2 .1 0-3.8 10-2.5 7.5-15 2.5-1.2 3.8 3.7 4.9 7 3.8-1.5 3.8-3 2.4-1.2 11.3-1.8 12.5-2.5 12.5-1.5 11.2-6.8 7.6-11.2 1.2-15 2-22.5 1.8-2-.2-12 2.4-8 2-8 3-6 3-6 5-6 3.6-3-8 9-2.6 10-4 8-2 2.4-7-8.4-2.4-7-3.6-2-9 3-7 7-4.6-7-6.4-8-1-8-.6-6 4.6-7 4-3 9 3 8 6 6 3 9-3 7-9 2-8 3-1 8-3 8 8-1 6-5 5-6.4 8 3.4 4 4-6 6 1-7-6-2-6 5-8 7-8 4-4 8-1 8-1 8-1 2 7-4 8-8 8-7 7.6-7.4-4.6 7.4-7 8-7 7-7 7-6 6-5 7-3 8-8 2-2 10 3 10 3 12-.5 28M342.5 203.8l-1.2-6.3-5.1-5-1.2 9.5-6.2 1.8-8.1-6.3-6.9 4.2-4.6 8.3-4.7 9.2-5.8-3.7-8.2 1.5-3 8 5.5 5.5-4.2 5.8-7.6 4.2-6.2 3.2M272.5 246.2l2.5-3.7-2.5-10-5-10-1.2-15-7.6-3.8-2.4 13.8-3.3 15 0 13.8 1.5 8.7 8-.5 6.2-4.5M343.8 200l-7.6-7.5-1.2 7.5M725 152.5l-15-2.5-13.8-5-6.2-6.2-7.5-6.3-15-3.8-10-7.4-12.5-3.8-12.5-5.5-13.8 2.5-10-5 3.8-4 12.5-2.5 15-.5 5-3.8 11.2-3.7-8.7-13-15-2-18.8-7.5-16.2 1.2-3.8 7.5-23.7-21.7 8.8 4.2 18.7-1.7 20 3.5 17.5 4.5 12.5 2 17.5-.8 20 1.8 12.5 3.2 7.5 2.5 6.2-3.7 3.8-10 8.8-6.2 2.2-2.5M667.5 53l3.8 7 8.7-5 3.8-2M690 53l7.5 7 12.5 1.2 12.5-3.7 3.5-.5M568.8 98.8l8.7 17.5 15 5 22.5 5 25 3.7 28.8 7.5-3.8 0-30-3.8-22.5-4.2-22.5-5.8-16.2-6.2-8.3-13.8 3.2-5" fill="none" stroke="#000" stroke-width="2.45" stroke-linejoin="round" stroke-linecap="round"/></g>
<rect x="73" y="53" width="653" height="495" fill="none" stroke="#000" stroke-width="2"/>
<path d="M153.5 549V552.5M235.8 549V552.5M318.2 549V552.5M400.5 549V552.5M482.8 549V552.5M565.1 549V552.5M647.5 549V552.5M72 72.5H68.5M72 168.4H68.5M72 264.3H68.5M72 360.2H68.5M72 456.1H68.5" fill="none" stroke="#000" stroke-width="1"/>
<text x="153.5" y="563.2" font-size="12.6" text-anchor="middle">29</text>
<text x="235.8" y="563.2" font-size="12.6" text-anchor="middle">29.5</text>
<text x="318.2" y="563.2" font-size="12.6" text-anchor="middle">30</text>
<text x="400.5" y="563.2" font-size="12.6" text-anchor="middle">30.5</text>
<text x="482.8" y="563.2" font-size="12.6" text-anchor="middle">31</text>
<text x="565.1" y="563.2" font-size="12.6" text-anchor="middle">31.5</text>
<text x="647.5" y="563.2" font-size="12.6" text-anchor="middle">32</text>
<text x="66" y="77.0" font-size="12.6" text-anchor="end">46.5</text>
<text x="66" y="172.9" font-size="12.6" text-anchor="end">46</text>
<text x="66" y="268.8" font-size="12.6" text-anchor="end">45.5</text>
<text x="66" y="364.7" font-size="12.6" text-anchor="end">45</text>
<text x="66" y="460.6" font-size="12.6" text-anchor="end">44.5</text>
<g shape-rendering="crispEdges"><rect x="734" y="533.48" width="15" height="7.82" fill="#00008f"/><rect x="734" y="525.97" width="15" height="7.82" fill="#00009f"/><rect x="734" y="518.45" width="15" height="7.82" fill="#0000af"/><rect x="734" y="510.94" width="15" height="7.82" fill="#0000bf"/><rect x="734" y="503.42" width="15" height="7.82" fill="#0000cf"/><rect x="734" y="495.91" width="15" height="7.82" fill="#0000df"/><rect x="734" y="488.39" width="15" height="7.82" fill="#0000ef"/><rect x="734" y="480.88" width="15" height="7.82" fill="#0000ff"/><rect x="734" y="473.36" width="15" height="7.82" fill="#0010ff"/><rect x="734" y="465.84" width="15" height="7.82" fill="#0020ff"/><rect x="734" y="458.33" width="15" height="7.82" fill="#0030ff"/><rect x="734" y="450.81" width="15" height="7.82" fill="#0040ff"/><rect x="734" y="443.30" width="15" height="7.82" fill="#0050ff"/><rect x="734" y="435.78" width="15" height="7.82" fill="#0060ff"/><rect x="734" y="428.27" width="15" height="7.82" fill="#0070ff"/><rect x="734" y="420.75" width="15" height="7.82" fill="#0080ff"/><rect x="734" y="413.23" width="15" height="7.82" fill="#008fff"/><rect x="734" y="405.72" width="15" height="7.82" fill="#009fff"/><rect x="734" y="398.20" width="15" height="7.82" fill="#00afff"/><rect x="734" y="390.69" width="15" height="7.82" fill="#00bfff"/><rect x="734" y="383.17" width="15" height="7.82" fill="#00cfff"/><rect x="734" y="375.66" width="15" height="7.82" fill="#00dfff"/><rect x="734" y="368.14" width="15" height="7.82" fill="#00efff"/><rect x="734" y="360.62" width="15" height="7.82" fill="#00ffff"/><rect x="734" y="353.11" width="15" height="7.82" fill="#10ffef"/><rect x="734" y="345.59" width="15" height="7.82" fill="#20ffdf"/><rect x="734" y="338.08" width="15" height="7.82" fill="#30ffcf"/><rect x="734" y="330.56" width="15" height="7.82" fill="#40ffbf"/><rect x="734" y="323.05" width="15" height="7.82" fill="#50ffaf"/><rect x="734" y="315.53" width="15" height="7.82" fill="#60ff9f"/><rect x="734" y="308.02" width="15" height="7.82" fill="#70ff8f"/><rect x="734" y="300.50" width="15" height="7.82" fill="#80ff80"/><rect x="734" y="292.98" width="15" height="7.82" fill="#8fff70"/><rect x="734" y="285.47" width="15" height="7.82" fill="#9fff60"/><rect x="734" y="277.95" width="15" height="7.82" fill="#afff50"/><rect x="734" y="270.44" width="15" height="7.82" fill="#bfff40"/><rect x="734" y="262.92" width="15" height="7.82" fill="#cfff30"/><rect x="734" y="255.41" width="15" height="7.82" fill="#dfff20"/><rect x="734" y="247.89" width="15" height="7.82" fill="#efff10"/><rect x="734" y="240.38" width="15" height="7.82" fill="#ffff00"/><rect x="734" y="232.86" width="15" height="7.82" fill="#ffef00"/><rect x="734" y="225.34" width="15" height="7.82" fill="#ffdf00"/><rect x="734" y="217.83" width="15" height="7.82" fill="#ffcf00"/><rect x="734" y="210.31" width="15" height="7.82" fill="#ffbf00"/><rect x="734" y="202.80" width="15" height="7.82" fill="#ffaf00"/><rect x="734" y="195.28" width="15" height="7.82" fill="#ff9f00"/><rect x="734" y="187.77" width="15" height="7.82" fill="#ff8f00"/><rect x="734" y="180.25" width="15" height="7.82" fill="#ff8000"/><rect x="734" y="172.73" width="15" height="7.82" fill="#ff7000"/><rect x="734" y="165.22" width="15" height="7.82" fill="#ff6000"/><rect x="734" y="157.70" width="15" height="7.82" fill="#ff5000"/><rect x="734" y="150.19" width="15" height="7.82" fill="#ff4000"/><rect x="734" y="142.67" width="15" height="7.82" fill="#ff3000"/><rect x="734" y="135.16" width="15" height="7.82" fill="#ff2000"/><rect x="734" y="127.64" width="15" height="7.82" fill="#ff1000"/><rect x="734" y="120.12" width="15" height="7.82" fill="#ff0000"/><rect x="734" y="112.61" width="15" height="7.82" fill="#ef0000"/><rect x="734" y="105.09" width="15" height="7.82" fill="#df0000"/><rect x="734" y="97.58" width="15" height="7.82" fill="#cf0000"/><rect x="734" y="90.06" width="15" height="7.82" fill="#bf0000"/><rect x="734" y="82.55" width="15" height="7.82" fill="#af0000"/><rect x="734" y="75.03" width="15" height="7.82" fill="#9f0000"/><rect x="734" y="67.52" width="15" height="7.82" fill="#8f0000"/><rect x="734" y="60.00" width="15" height="7.82" fill="#800000"/></g>
<text x="761" y="71.0" font-size="13.2" textLength="28" lengthAdjust="spacingAndGlyphs">9.29</text>
<text x="761" y="184.5" font-size="13.2" textLength="28" lengthAdjust="spacingAndGlyphs">7.95</text>
<text x="761" y="302.5" font-size="13.2" textLength="28" lengthAdjust="spacingAndGlyphs">6.53</text>
<text x="761" y="421.5" font-size="13.2" textLength="28" lengthAdjust="spacingAndGlyphs">5.12</text>
<text x="761" y="540.0" font-size="13.2" textLength="28" lengthAdjust="spacingAndGlyphs">3.70</text>
<text x="54.5" y="41.5" font-size="23.7" textLength="141.0" lengthAdjust="spacingAndGlyphs">Temperature</text>
<text x="210.2" y="41.5" font-size="23.7" textLength="39.8" lengthAdjust="spacingAndGlyphs">(C).</text>
<text x="266.0" y="41.5" font-size="23.7" textLength="49.5" lengthAdjust="spacingAndGlyphs">Date</text>
<text x="329.5" y="41.5" font-size="23.7" textLength="135.5" lengthAdjust="spacingAndGlyphs">2011.01.18.</text>
<text x="477.0" y="41.5" font-size="23.7" textLength="54.0" lengthAdjust="spacingAndGlyphs">Time</text>
<text x="546.8" y="41.5" font-size="23.7" textLength="141.2" lengthAdjust="spacingAndGlyphs">00(h):00(m)</text>
<text x="701.5" y="41.5" font-size="23.7" textLength="44.2" lengthAdjust="spacingAndGlyphs">GMT</text>
<text x="109.5" y="107.0" font-size="19.3" textLength="14.0" lengthAdjust="spacingAndGlyphs" stroke="#fff" stroke-width="0.4">Z</text>
<text x="137.8" y="107.0" font-size="19.3" textLength="17.0" lengthAdjust="spacingAndGlyphs" stroke="#fff" stroke-width="0.4">=</text>
<text x="169.5" y="107.0" font-size="19.3" textLength="34.5" lengthAdjust="spacingAndGlyphs" stroke="#fff" stroke-width="0.4">2.5</text>
<text x="219.5" y="107.0" font-size="19.3" textLength="19.0" lengthAdjust="spacingAndGlyphs" stroke="#fff" stroke-width="0.4">m</text>
<text x="322.8" y="588.6" font-size="19.5" textLength="87.8" lengthAdjust="spacingAndGlyphs" stroke="#000" stroke-width="0.45">Longitude</text>
<text x="421.5" y="588.6" font-size="19.5" textLength="54.5" lengthAdjust="spacingAndGlyphs" stroke="#000" stroke-width="0.45">(East)</text>
<g transform="translate(30 372) rotate(-90)">
<text x="-1.0" y="0.0" font-size="19.5" textLength="71.0" lengthAdjust="spacingAndGlyphs" stroke="#000" stroke-width="0.45">Latitude</text>
<text x="81.5" y="0.0" font-size="19.5" textLength="60.5" lengthAdjust="spacingAndGlyphs" stroke="#000" stroke-width="0.45">(North)</text>
</g>
</svg></body></html>
